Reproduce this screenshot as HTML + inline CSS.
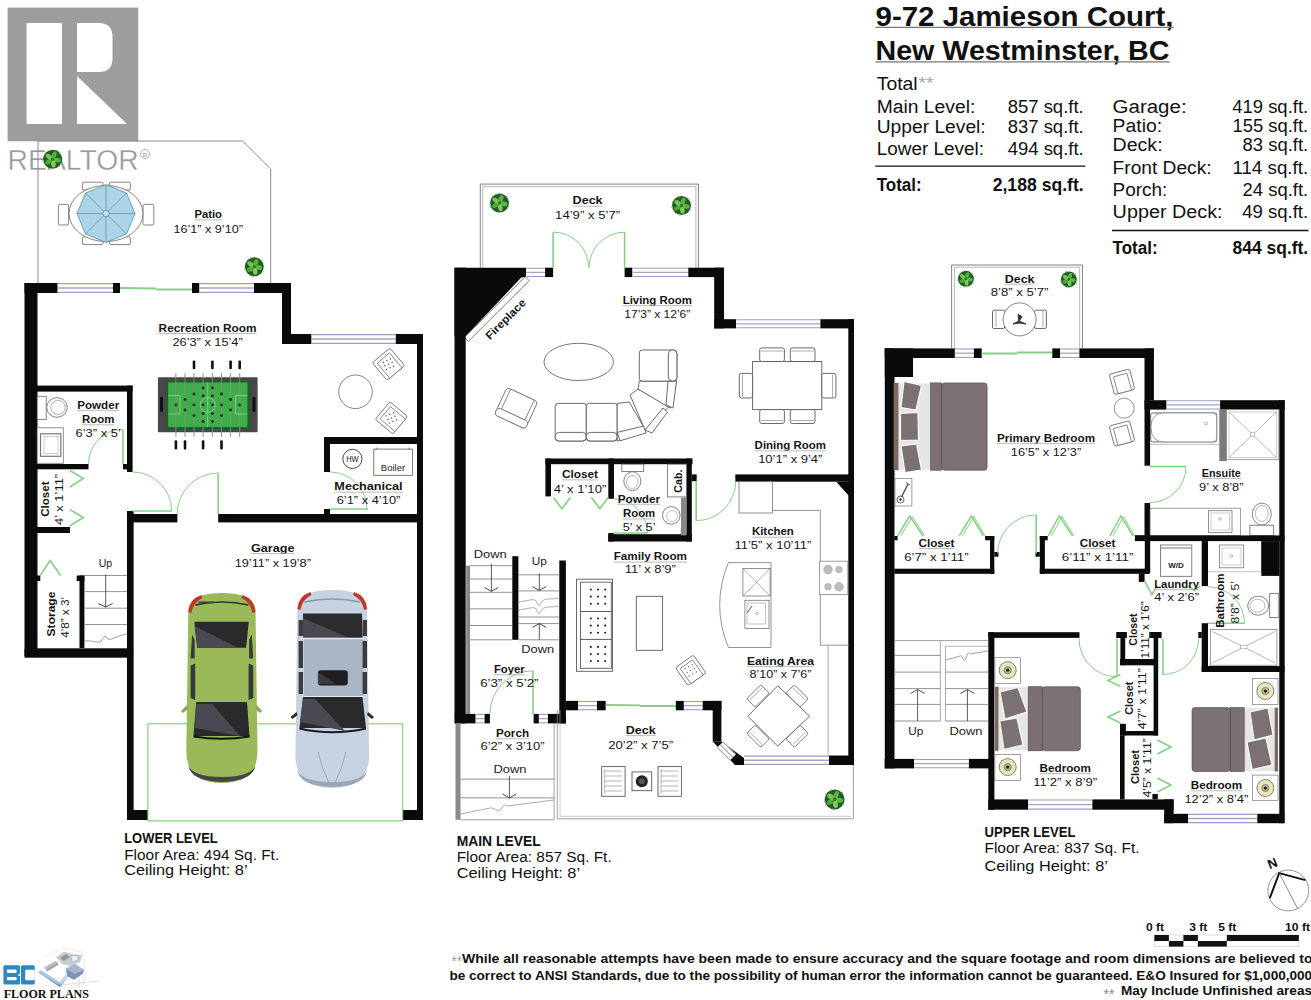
<!DOCTYPE html><html><head><meta charset="utf-8"><style>html,body{margin:0;padding:0;background:#fff;overflow:hidden}svg{display:block}</style></head><body><svg width="1311" height="1000" viewBox="0 0 1311 1000"><rect x="7.6" y="7.6" width="130.6" height="133.7" fill="#9d9d9d" />
<rect x="26.6" y="23" width="35.4" height="101" fill="#fff" />
<path d="M77,23 H99 Q112.5,23 112.5,37 V58 Q112.5,72 99,72 H77 Z" stroke="none" stroke-width="0" fill="#fff" />
<polygon points="77,76 127,124 77,124" fill="#fff" />
<text x="7.6" y="170" font-family="Liberation Sans" font-size="29.5" font-weight="normal" text-anchor="start" fill="#9a9a9a" textLength="131" lengthAdjust="spacingAndGlyphs" stroke="#fff" stroke-width="0.35">REALTOR</text>
<circle cx="145" cy="154" r="4.5" stroke="#a8a8a8" stroke-width="0.9" fill="none" />
<text x="145" y="157" font-family="Liberation Sans" font-size="6" font-weight="bold" text-anchor="middle" fill="#a8a8a8" >R</text>
<text x="875.5" y="25.8" font-family="Liberation Sans" font-size="28" font-weight="bold" text-anchor="start" fill="#111" textLength="298" lengthAdjust="spacingAndGlyphs" >9-72 Jamieson Court,</text>
<line x1="875.5" y1="27.3" x2="1173.7" y2="27.3" stroke="#777" stroke-width="1.2" />
<text x="875.5" y="60.2" font-family="Liberation Sans" font-size="28" font-weight="bold" text-anchor="start" fill="#111" textLength="294" lengthAdjust="spacingAndGlyphs" >New Westminster, BC</text>
<line x1="875.5" y1="61.8" x2="1169.6" y2="61.8" stroke="#777" stroke-width="1.2" />
<text x="876.7" y="89.6" font-family="Liberation Sans" font-size="18" font-weight="normal" text-anchor="start" fill="#111" textLength="41" lengthAdjust="spacingAndGlyphs" >Total</text>
<text x="918.3" y="88.5" font-family="Liberation Sans" font-size="17" font-weight="normal" text-anchor="start" fill="#aaa" textLength="15.5" lengthAdjust="spacingAndGlyphs" >**</text>
<text x="876.7" y="112.6" font-family="Liberation Sans" font-size="18" font-weight="normal" text-anchor="start" fill="#111" textLength="98.6" lengthAdjust="spacingAndGlyphs" >Main Level:</text>
<text x="1083.7" y="112.6" font-family="Liberation Sans" font-size="18" font-weight="normal" text-anchor="end" fill="#111" textLength="76" lengthAdjust="spacingAndGlyphs" >857 sq.ft.</text>
<text x="876.7" y="133.2" font-family="Liberation Sans" font-size="18" font-weight="normal" text-anchor="start" fill="#111" textLength="109" lengthAdjust="spacingAndGlyphs" >Upper Level:</text>
<text x="1083.7" y="133.2" font-family="Liberation Sans" font-size="18" font-weight="normal" text-anchor="end" fill="#111" textLength="76" lengthAdjust="spacingAndGlyphs" >837 sq.ft.</text>
<text x="876.7" y="155.1" font-family="Liberation Sans" font-size="18" font-weight="normal" text-anchor="start" fill="#111" textLength="107.4" lengthAdjust="spacingAndGlyphs" >Lower Level:</text>
<text x="1083.7" y="155.1" font-family="Liberation Sans" font-size="18" font-weight="normal" text-anchor="end" fill="#111" textLength="76" lengthAdjust="spacingAndGlyphs" >494 sq.ft.</text>
<line x1="875.3" y1="166.1" x2="1085.4" y2="166.1" stroke="#111" stroke-width="1.3" />
<text x="876.7" y="191.4" font-family="Liberation Sans" font-size="18" font-weight="bold" text-anchor="start" fill="#111" textLength="45" lengthAdjust="spacingAndGlyphs" >Total:</text>
<text x="1083.7" y="191.4" font-family="Liberation Sans" font-size="18" font-weight="bold" text-anchor="end" fill="#111" textLength="91" lengthAdjust="spacingAndGlyphs" >2,188 sq.ft.</text>
<text x="1112.6" y="112.7" font-family="Liberation Sans" font-size="18" font-weight="normal" text-anchor="start" fill="#111" textLength="74" lengthAdjust="spacingAndGlyphs" >Garage:</text>
<text x="1308.2" y="112.7" font-family="Liberation Sans" font-size="18" font-weight="normal" text-anchor="end" fill="#111" textLength="76" lengthAdjust="spacingAndGlyphs" >419 sq.ft.</text>
<text x="1112.6" y="132" font-family="Liberation Sans" font-size="18" font-weight="normal" text-anchor="start" fill="#111" textLength="49.5" lengthAdjust="spacingAndGlyphs" >Patio:</text>
<text x="1308.2" y="132" font-family="Liberation Sans" font-size="18" font-weight="normal" text-anchor="end" fill="#111" textLength="75.8" lengthAdjust="spacingAndGlyphs" >155 sq.ft.</text>
<text x="1112.6" y="151.2" font-family="Liberation Sans" font-size="18" font-weight="normal" text-anchor="start" fill="#111" textLength="50" lengthAdjust="spacingAndGlyphs" >Deck:</text>
<text x="1308.2" y="151.2" font-family="Liberation Sans" font-size="18" font-weight="normal" text-anchor="end" fill="#111" textLength="65.6" lengthAdjust="spacingAndGlyphs" >83 sq.ft.</text>
<text x="1112.6" y="173.6" font-family="Liberation Sans" font-size="18" font-weight="normal" text-anchor="start" fill="#111" textLength="99" lengthAdjust="spacingAndGlyphs" >Front Deck:</text>
<text x="1308.2" y="173.6" font-family="Liberation Sans" font-size="18" font-weight="normal" text-anchor="end" fill="#111" textLength="75.8" lengthAdjust="spacingAndGlyphs" >114 sq.ft.</text>
<text x="1112.6" y="195.8" font-family="Liberation Sans" font-size="18" font-weight="normal" text-anchor="start" fill="#111" textLength="54.8" lengthAdjust="spacingAndGlyphs" >Porch:</text>
<text x="1308.2" y="195.8" font-family="Liberation Sans" font-size="18" font-weight="normal" text-anchor="end" fill="#111" textLength="65.6" lengthAdjust="spacingAndGlyphs" >24 sq.ft.</text>
<text x="1112.6" y="218.1" font-family="Liberation Sans" font-size="18" font-weight="normal" text-anchor="start" fill="#111" textLength="110" lengthAdjust="spacingAndGlyphs" >Upper Deck:</text>
<text x="1308.2" y="218.1" font-family="Liberation Sans" font-size="18" font-weight="normal" text-anchor="end" fill="#111" textLength="66" lengthAdjust="spacingAndGlyphs" >49 sq.ft.</text>
<line x1="1112" y1="230.5" x2="1308.5" y2="230.5" stroke="#111" stroke-width="1.3" />
<text x="1112.6" y="254.4" font-family="Liberation Sans" font-size="18" font-weight="bold" text-anchor="start" fill="#111" textLength="45" lengthAdjust="spacingAndGlyphs" >Total:</text>
<text x="1308.2" y="254.4" font-family="Liberation Sans" font-size="18" font-weight="bold" text-anchor="end" fill="#111" textLength="75.6" lengthAdjust="spacingAndGlyphs" >844 sq.ft.</text>
<path d="M38,283 V141 H242.6 L270.7,169 V283" stroke="#8a8a8a" stroke-width="1" fill="none" />
<rect x="24.5" y="283" width="33.2" height="10" fill="#0a0a0a" />
<rect x="57.7" y="283" width="55.3" height="10" fill="#fff" />
<line x1="57.7" y1="283.6" x2="113" y2="283.6" stroke="#9a9cc8" stroke-width="1.1" />
<line x1="57.7" y1="292.4" x2="113" y2="292.4" stroke="#9a9cc8" stroke-width="1.1" />
<line x1="57.7" y1="288" x2="113" y2="288" stroke="#a6a6b4" stroke-width="1.3" />
<rect x="113" y="283" width="7" height="10" fill="#0a0a0a" />
<line x1="120" y1="288" x2="156" y2="288.5" stroke="#86d086" stroke-width="1.8" />
<line x1="156" y1="289.5" x2="192" y2="289.5" stroke="#86d086" stroke-width="1.8" />
<rect x="192" y="283" width="7.5" height="10" fill="#0a0a0a" />
<rect x="199.5" y="283" width="54.5" height="10" fill="#fff" />
<line x1="199.5" y1="283.6" x2="254" y2="283.6" stroke="#9a9cc8" stroke-width="1.1" />
<line x1="199.5" y1="292.4" x2="254" y2="292.4" stroke="#9a9cc8" stroke-width="1.1" />
<line x1="199.5" y1="288" x2="254" y2="288" stroke="#a6a6b4" stroke-width="1.3" />
<rect x="254" y="283" width="37" height="10" fill="#0a0a0a" />
<rect x="24.5" y="283" width="13" height="373" fill="#0a0a0a" />
<rect x="282" y="283" width="9" height="61" fill="#0a0a0a" />
<rect x="282" y="334" width="29.6" height="10" fill="#0a0a0a" />
<rect x="311.6" y="334" width="84.2" height="10" fill="#fff" />
<line x1="311.6" y1="334.6" x2="395.8" y2="334.6" stroke="#9a9cc8" stroke-width="1.1" />
<line x1="311.6" y1="343.4" x2="395.8" y2="343.4" stroke="#9a9cc8" stroke-width="1.1" />
<line x1="311.6" y1="339" x2="395.8" y2="339" stroke="#a6a6b4" stroke-width="1.3" />
<rect x="395.8" y="334" width="27.2" height="10" fill="#0a0a0a" />
<rect x="417" y="334" width="6" height="486" fill="#0a0a0a" />
<rect x="324" y="437" width="99" height="7" fill="#0a0a0a" />
<rect x="324" y="437" width="6" height="35" fill="#0a0a0a" />
<rect x="324" y="509" width="6" height="13" fill="#0a0a0a" />
<rect x="37" y="385.6" width="95.6" height="6" fill="#0a0a0a" />
<rect x="127" y="385.6" width="5.6" height="86.4" fill="#0a0a0a" />
<rect x="123" y="464" width="4" height="5.4" fill="#0a0a0a" />
<rect x="37" y="464" width="51.5" height="5.3" fill="#0a0a0a" />
<rect x="37" y="527" width="33" height="6" fill="#0a0a0a" />
<rect x="36.5" y="575.5" width="3.8" height="5.5" fill="#0a0a0a" />
<rect x="76.7" y="575.5" width="7.7" height="5.5" fill="#0a0a0a" />
<rect x="79.5" y="575.5" width="4.9" height="72.5" fill="#0a0a0a" />
<rect x="24.5" y="648.3" width="108.7" height="9.4" fill="#0a0a0a" />
<rect x="127" y="511" width="6.6" height="309" fill="#0a0a0a" />
<rect x="127" y="514" width="50.4" height="8.4" fill="#0a0a0a" />
<rect x="218.2" y="514" width="204.8" height="8.4" fill="#0a0a0a" />
<rect x="127" y="810" width="21" height="10" fill="#0a0a0a" />
<rect x="402.7" y="810" width="20.3" height="10" fill="#0a0a0a" />
<rect x="147.9" y="723.8" width="254.8" height="97.1" fill="none" stroke="#7ccf7c" stroke-width="1.1"/>
<rect x="82.4" y="182.2" width="20.6" height="7.8" fill="#fff" stroke="#666" stroke-width="0.8" rx="1.5"/>
<rect x="82.4" y="236.8" width="20.6" height="7.8" fill="#fff" stroke="#666" stroke-width="0.8" rx="1.5"/>
<rect x="109.4" y="182.2" width="21" height="7.8" fill="#fff" stroke="#666" stroke-width="0.8" rx="1.5"/>
<rect x="109.4" y="236.8" width="21" height="7.8" fill="#fff" stroke="#666" stroke-width="0.8" rx="1.5"/>
<rect x="58.4" y="204.4" width="10.2" height="20.6" fill="#fff" stroke="#666" stroke-width="0.8" rx="1.5"/>
<rect x="143" y="204.4" width="10.8" height="20.6" fill="#fff" stroke="#666" stroke-width="0.8" rx="1.5"/>
<ellipse cx="106" cy="213.5" rx="37" ry="28" stroke="#666" stroke-width="0.8" fill="#fff" />
<polygon points="106,184.5 126.51,192.99 135,213.5 126.51,234.01 106,242.5 85.49,234.01 77,213.5 85.49,192.99" fill="#a9d5e6" stroke="#4f7f94" stroke-width="0.7"/>
<line x1="106" y1="213.5" x2="106" y2="184.5" stroke="#4f7f94" stroke-width="0.6" />
<line x1="106" y1="213.5" x2="126.51" y2="192.99" stroke="#4f7f94" stroke-width="0.6" />
<line x1="106" y1="213.5" x2="135" y2="213.5" stroke="#4f7f94" stroke-width="0.6" />
<line x1="106" y1="213.5" x2="126.51" y2="234.01" stroke="#4f7f94" stroke-width="0.6" />
<line x1="106" y1="213.5" x2="106" y2="242.5" stroke="#4f7f94" stroke-width="0.6" />
<line x1="106" y1="213.5" x2="85.49" y2="234.01" stroke="#4f7f94" stroke-width="0.6" />
<line x1="106" y1="213.5" x2="77" y2="213.5" stroke="#4f7f94" stroke-width="0.6" />
<line x1="106" y1="213.5" x2="85.49" y2="192.99" stroke="#4f7f94" stroke-width="0.6" />
<circle cx="106" cy="213.5" r="3.2" stroke="#4f7f94" stroke-width="0.7" fill="#bfe3f0" />
<circle cx="254.3" cy="266.8" r="9.5" stroke="none" stroke-width="0" fill="#1f5f22" />
<ellipse cx="258.51" cy="267.54" rx="3.99" ry="2.28" fill="#5fb446" transform="rotate(10 258.51 267.54)"/>
<ellipse cx="255.04" cy="271.01" rx="3.99" ry="2.28" fill="#86c95a" transform="rotate(80 255.04 271.01)"/>
<ellipse cx="250.6" cy="268.94" rx="3.99" ry="2.28" fill="#4fa83c" transform="rotate(150 250.6 268.94)"/>
<ellipse cx="250.8" cy="264.35" rx="3.99" ry="2.28" fill="#7cc255" transform="rotate(215 250.8 264.35)"/>
<ellipse cx="255.76" cy="262.78" rx="3.99" ry="2.28" fill="#5cb043" transform="rotate(290 255.76 262.78)"/>
<circle cx="254.3" cy="266.8" r="1.71" stroke="none" stroke-width="0" fill="#2d7a2d" />
<circle cx="262.69" cy="271.64" r="0.9" stroke="none" stroke-width="0" fill="#9ec89a" />
<circle cx="252.62" cy="276.34" r="0.9" stroke="none" stroke-width="0" fill="#9ec89a" />
<circle cx="244.76" cy="268.48" r="0.9" stroke="none" stroke-width="0" fill="#9ec89a" />
<circle cx="250.99" cy="257.69" r="0.9" stroke="none" stroke-width="0" fill="#9ec89a" />
<circle cx="261.72" cy="260.57" r="0.9" stroke="none" stroke-width="0" fill="#9ec89a" />
<circle cx="52.6" cy="159.3" r="9.5" stroke="none" stroke-width="0" fill="#1f5f22" />
<ellipse cx="56.81" cy="160.04" rx="3.99" ry="2.28" fill="#5fb446" transform="rotate(10 56.81 160.04)"/>
<ellipse cx="53.34" cy="163.51" rx="3.99" ry="2.28" fill="#86c95a" transform="rotate(80 53.34 163.51)"/>
<ellipse cx="48.9" cy="161.44" rx="3.99" ry="2.28" fill="#4fa83c" transform="rotate(150 48.9 161.44)"/>
<ellipse cx="49.1" cy="156.85" rx="3.99" ry="2.28" fill="#7cc255" transform="rotate(215 49.1 156.85)"/>
<ellipse cx="54.06" cy="155.28" rx="3.99" ry="2.28" fill="#5cb043" transform="rotate(290 54.06 155.28)"/>
<circle cx="52.6" cy="159.3" r="1.71" stroke="none" stroke-width="0" fill="#2d7a2d" />
<circle cx="60.99" cy="164.15" r="0.9" stroke="none" stroke-width="0" fill="#9ec89a" />
<circle cx="50.92" cy="168.84" r="0.9" stroke="none" stroke-width="0" fill="#9ec89a" />
<circle cx="43.06" cy="160.98" r="0.9" stroke="none" stroke-width="0" fill="#9ec89a" />
<circle cx="49.29" cy="150.19" r="0.9" stroke="none" stroke-width="0" fill="#9ec89a" />
<circle cx="60.02" cy="153.07" r="0.9" stroke="none" stroke-width="0" fill="#9ec89a" />
<rect x="157.9" y="377.3" width="99.7" height="55" fill="#4b4649" rx="1"/>
<rect x="165.4" y="379.7" width="84.7" height="49.7" fill="#245f2a" />
<rect x="168.2" y="382.5" width="79.2" height="44.5" fill="#3fae4a" />
<line x1="175.9" y1="373" x2="175.9" y2="437" stroke="#8a8a8a" stroke-width="0.9" />
<line x1="185" y1="373" x2="185" y2="437" stroke="#8a8a8a" stroke-width="0.9" />
<line x1="194" y1="373" x2="194" y2="437" stroke="#8a8a8a" stroke-width="0.9" />
<line x1="203.1" y1="373" x2="203.1" y2="437" stroke="#8a8a8a" stroke-width="0.9" />
<line x1="212.4" y1="373" x2="212.4" y2="437" stroke="#8a8a8a" stroke-width="0.9" />
<line x1="221.5" y1="373" x2="221.5" y2="437" stroke="#8a8a8a" stroke-width="0.9" />
<line x1="230.6" y1="373" x2="230.6" y2="437" stroke="#8a8a8a" stroke-width="0.9" />
<line x1="239.7" y1="373" x2="239.7" y2="437" stroke="#8a8a8a" stroke-width="0.9" />
<rect x="192.7" y="360.5" width="2.6" height="8.8" fill="#111" rx="1"/>
<rect x="211.1" y="360.5" width="2.6" height="8.8" fill="#111" rx="1"/>
<rect x="229.3" y="360.5" width="2.6" height="8.8" fill="#111" rx="1"/>
<rect x="238.4" y="360.5" width="2.6" height="8.8" fill="#111" rx="1"/>
<rect x="174.6" y="440.2" width="2.6" height="9.4" fill="#111" rx="1"/>
<rect x="183.7" y="440.2" width="2.6" height="9.4" fill="#111" rx="1"/>
<rect x="201.8" y="440.2" width="2.6" height="9.4" fill="#111" rx="1"/>
<rect x="220.2" y="440.2" width="2.6" height="9.4" fill="#111" rx="1"/>
<line x1="207.7" y1="382.5" x2="207.7" y2="427" stroke="#8fe08f" stroke-width="0.7" />
<circle cx="207.7" cy="404.8" r="7.5" stroke="#8fe08f" stroke-width="0.7" fill="none" />
<path d="M168.2,395.5 H180 V414 H168.2" stroke="#8fe08f" stroke-width="0.7" fill="none" />
<path d="M247.4,395.5 H235.5 V414 H247.4" stroke="#8fe08f" stroke-width="0.7" fill="none" />
<circle cx="175.9" cy="404.8" r="1.4" stroke="none" stroke-width="0" fill="#0e2e10" />
<circle cx="185" cy="399.5" r="1.4" stroke="none" stroke-width="0" fill="#0e2e10" />
<circle cx="185" cy="410" r="1.4" stroke="none" stroke-width="0" fill="#0e2e10" />
<circle cx="194" cy="394" r="1.4" stroke="none" stroke-width="0" fill="#0e2e10" />
<circle cx="194" cy="404.8" r="1.4" stroke="none" stroke-width="0" fill="#0e2e10" />
<circle cx="194" cy="415.6" r="1.4" stroke="none" stroke-width="0" fill="#0e2e10" />
<circle cx="203.1" cy="388" r="1.4" stroke="none" stroke-width="0" fill="#0e2e10" />
<circle cx="203.1" cy="396" r="1.4" stroke="none" stroke-width="0" fill="#0e2e10" />
<circle cx="203.1" cy="404.8" r="1.4" stroke="none" stroke-width="0" fill="#0e2e10" />
<circle cx="203.1" cy="413.5" r="1.4" stroke="none" stroke-width="0" fill="#0e2e10" />
<circle cx="203.1" cy="421.5" r="1.4" stroke="none" stroke-width="0" fill="#0e2e10" />
<circle cx="212.4" cy="388" r="1.4" stroke="none" stroke-width="0" fill="#0e2e10" />
<circle cx="212.4" cy="396" r="1.4" stroke="none" stroke-width="0" fill="#0e2e10" />
<circle cx="212.4" cy="404.8" r="1.4" stroke="none" stroke-width="0" fill="#0e2e10" />
<circle cx="212.4" cy="413.5" r="1.4" stroke="none" stroke-width="0" fill="#0e2e10" />
<circle cx="212.4" cy="421.5" r="1.4" stroke="none" stroke-width="0" fill="#0e2e10" />
<circle cx="221.5" cy="394" r="1.4" stroke="none" stroke-width="0" fill="#0e2e10" />
<circle cx="221.5" cy="404.8" r="1.4" stroke="none" stroke-width="0" fill="#0e2e10" />
<circle cx="221.5" cy="415.6" r="1.4" stroke="none" stroke-width="0" fill="#0e2e10" />
<circle cx="230.6" cy="399.5" r="1.4" stroke="none" stroke-width="0" fill="#0e2e10" />
<circle cx="230.6" cy="410" r="1.4" stroke="none" stroke-width="0" fill="#0e2e10" />
<circle cx="239.7" cy="404.8" r="1.4" stroke="none" stroke-width="0" fill="#0e2e10" />
<rect x="160" y="397" width="3" height="15" fill="#111" rx="1"/>
<rect x="252.5" y="397" width="3" height="15" fill="#111" rx="1"/>
<circle cx="355.5" cy="391.8" r="16.8" stroke="#666" stroke-width="0.8" fill="#fff" />
<g transform="translate(388.5 364.2) rotate(-40)"><rect x="-11.5" y="-11.5" width="23" height="23" rx="2" fill="#fff" stroke="#666" stroke-width="0.8"/><rect x="-8.0" y="-8.0" width="16" height="19.5" fill="#fff" stroke="#666" stroke-width="0.7"/></g>
<g transform="translate(391.4 417.9) rotate(-50)"><rect x="-11.5" y="-11.5" width="23" height="23" rx="2" fill="#fff" stroke="#666" stroke-width="0.8"/><rect x="-8.0" y="-8.0" width="16" height="19.5" fill="#fff" stroke="#666" stroke-width="0.7"/></g>
<circle cx="383.3" cy="362.2" r="0.7" stroke="none" stroke-width="0" fill="#444" />
<circle cx="384.9" cy="365.8" r="0.7" stroke="none" stroke-width="0" fill="#444" />
<circle cx="386.5" cy="369.4" r="0.7" stroke="none" stroke-width="0" fill="#444" />
<circle cx="386.9" cy="360.6" r="0.7" stroke="none" stroke-width="0" fill="#444" />
<circle cx="388.5" cy="364.2" r="0.7" stroke="none" stroke-width="0" fill="#444" />
<circle cx="390.1" cy="367.8" r="0.7" stroke="none" stroke-width="0" fill="#444" />
<circle cx="390.5" cy="359" r="0.7" stroke="none" stroke-width="0" fill="#444" />
<circle cx="392.1" cy="362.6" r="0.7" stroke="none" stroke-width="0" fill="#444" />
<circle cx="393.7" cy="366.2" r="0.7" stroke="none" stroke-width="0" fill="#444" />
<circle cx="386.2" cy="415.9" r="0.7" stroke="none" stroke-width="0" fill="#444" />
<circle cx="387.8" cy="419.5" r="0.7" stroke="none" stroke-width="0" fill="#444" />
<circle cx="389.4" cy="423.1" r="0.7" stroke="none" stroke-width="0" fill="#444" />
<circle cx="389.8" cy="414.3" r="0.7" stroke="none" stroke-width="0" fill="#444" />
<circle cx="391.4" cy="417.9" r="0.7" stroke="none" stroke-width="0" fill="#444" />
<circle cx="393" cy="421.5" r="0.7" stroke="none" stroke-width="0" fill="#444" />
<circle cx="393.4" cy="412.7" r="0.7" stroke="none" stroke-width="0" fill="#444" />
<circle cx="395" cy="416.3" r="0.7" stroke="none" stroke-width="0" fill="#444" />
<circle cx="396.6" cy="419.9" r="0.7" stroke="none" stroke-width="0" fill="#444" />
<circle cx="352.4" cy="458.9" r="9.6" stroke="#333" stroke-width="0.9" fill="none" />
<text x="352.4" y="462.3" font-family="Liberation Sans" font-size="9" font-weight="normal" text-anchor="middle" fill="#222" textLength="12.5" lengthAdjust="spacingAndGlyphs" >HW</text>
<rect x="373.8" y="449.1" width="38.6" height="26.2" fill="#fff" stroke="#555" stroke-width="0.8"/>
<text x="393" y="470.5" font-family="Liberation Sans" font-size="9.5" font-weight="normal" text-anchor="middle" fill="#222" >Boiler</text>
<line x1="377" y1="449.1" x2="377" y2="447.5" stroke="#555" stroke-width="0.8" />
<line x1="409" y1="449.1" x2="409" y2="447.5" stroke="#555" stroke-width="0.8" />
<rect x="37.2" y="396.3" width="9" height="23.2" fill="#fff" stroke="#666" stroke-width="0.8"/>
<ellipse cx="57" cy="407.5" rx="10.3" ry="9.8" stroke="#666" stroke-width="0.8" fill="#fff" />
<ellipse cx="58" cy="407.5" rx="7.3" ry="7" stroke="#777" stroke-width="0.6" fill="none" />
<rect x="37.2" y="427.8" width="26.1" height="35.5" fill="#fff" stroke="#777" stroke-width="0.8"/>
<rect x="40.5" y="433.8" width="20.3" height="22.5" fill="#fff" stroke="#777" stroke-width="1.2"/>
<rect x="44" y="436.5" width="14" height="17" fill="#fff" stroke="#999" stroke-width="0.5"/>
<line x1="123" y1="430" x2="123" y2="464" stroke="#86d086" stroke-width="1.6" />
<path d="M88.5,463.8 A34.5,34.5 0 0 1 123,429.3" stroke="#86d086" stroke-width="1" fill="none" />
<path d="M69.8,470.5 L83.3,478.5 L69.8,487.0" stroke="#86d086" stroke-width="1.6" fill="none" />
<path d="M69.8,509.5 L83.3,517.5 L69.8,526.0" stroke="#86d086" stroke-width="1.6" fill="none" />
<path d="M40.3,575.5 L50.1,560.5 L60.6,575.5" stroke="#86d086" stroke-width="1.6" fill="none" />
<line x1="132.6" y1="511" x2="171.5" y2="511" stroke="#86d086" stroke-width="1.6" />
<path d="M132.6,472 A39,39 0 0 1 171.6,511" stroke="#86d086" stroke-width="1" fill="none" />
<line x1="218.2" y1="473" x2="218.2" y2="514" stroke="#86d086" stroke-width="1.6" />
<path d="M177.2,514 A41,41 0 0 1 218.2,473" stroke="#86d086" stroke-width="1" fill="none" />
<line x1="330" y1="509" x2="368" y2="509" stroke="#86d086" stroke-width="1.6" />
<path d="M330,472 A37,37 0 0 1 367,509" stroke="#86d086" stroke-width="1" fill="none" />
<line x1="84.4" y1="575.5" x2="127" y2="575.5" stroke="#777" stroke-width="0.8" />
<line x1="84.4" y1="591.6" x2="127" y2="591.6" stroke="#777" stroke-width="0.8" />
<line x1="84.4" y1="608.2" x2="127" y2="608.2" stroke="#777" stroke-width="0.8" />
<line x1="84.4" y1="624.5" x2="127" y2="624.5" stroke="#777" stroke-width="0.8" />
<path d="M84.4,641 C93,640 98,644 101,641 S104,634 107,638 S115,636 127,634" stroke="#777" stroke-width="0.7" fill="none" />
<line x1="105.7" y1="574.5" x2="105.7" y2="607" stroke="#333" stroke-width="0.8" />
<path d="M98.4,603.5 L105.7,607 L112.7,603.5" stroke="#333" stroke-width="0.9" fill="none" />
<text x="105.4" y="567.1" font-family="Liberation Sans" font-size="11" font-weight="normal" text-anchor="middle" fill="#222" textLength="13.5" lengthAdjust="spacingAndGlyphs" >Up</text>
<text x="208.2" y="218.1" font-family="Liberation Sans" font-size="11" font-weight="bold" text-anchor="middle" fill="#151515" textLength="27.5" lengthAdjust="spacingAndGlyphs" >Patio</text>
<line x1="194.45" y1="219.9" x2="221.95" y2="219.9" stroke="#aaa" stroke-width="0.8" />
<text x="208.2" y="232.5" font-family="Liberation Sans" font-size="11" font-weight="normal" text-anchor="middle" fill="#151515" textLength="69.3" lengthAdjust="spacingAndGlyphs" >16’1” x 9’10”</text>
<text x="207.6" y="331.7" font-family="Liberation Sans" font-size="11" font-weight="bold" text-anchor="middle" fill="#151515" textLength="98" lengthAdjust="spacingAndGlyphs" >Recreation Room</text>
<line x1="158.6" y1="333.5" x2="256.6" y2="333.5" stroke="#aaa" stroke-width="0.8" />
<text x="207.6" y="345.9" font-family="Liberation Sans" font-size="11" font-weight="normal" text-anchor="middle" fill="#151515" textLength="70.3" lengthAdjust="spacingAndGlyphs" >26’3” x 15’4”</text>
<text x="98.2" y="408.6" font-family="Liberation Sans" font-size="11" font-weight="bold" text-anchor="middle" fill="#151515" textLength="42" lengthAdjust="spacingAndGlyphs" >Powder</text>
<line x1="77.2" y1="410.4" x2="119.2" y2="410.4" stroke="#aaa" stroke-width="0.8" />
<text x="98.2" y="423" font-family="Liberation Sans" font-size="11" font-weight="bold" text-anchor="middle" fill="#151515" textLength="32.4" lengthAdjust="spacingAndGlyphs" >Room</text>
<line x1="82" y1="424.8" x2="114.4" y2="424.8" stroke="#aaa" stroke-width="0.8" />
<text x="98.2" y="437" font-family="Liberation Sans" font-size="11" font-weight="normal" text-anchor="middle" fill="#151515" textLength="45.4" lengthAdjust="spacingAndGlyphs" >6’3” x 5’</text>
<text x="368.5" y="490.4" font-family="Liberation Sans" font-size="11" font-weight="bold" text-anchor="middle" fill="#151515" textLength="68.3" lengthAdjust="spacingAndGlyphs" >Mechanical</text>
<line x1="334.35" y1="492.2" x2="402.65" y2="492.2" stroke="#aaa" stroke-width="0.8" />
<text x="368.5" y="504" font-family="Liberation Sans" font-size="11" font-weight="normal" text-anchor="middle" fill="#151515" textLength="63.7" lengthAdjust="spacingAndGlyphs" >6’1” x 4’10”</text>
<text x="49.3" y="499.1" font-family="Liberation Sans" font-size="11" font-weight="bold" text-anchor="middle" fill="#151515" textLength="35.3" lengthAdjust="spacingAndGlyphs" transform="rotate(-90 49.3 499.1)" >Closet</text>
<text x="63" y="499.4" font-family="Liberation Sans" font-size="11" font-weight="normal" text-anchor="middle" fill="#151515" textLength="51.2" lengthAdjust="spacingAndGlyphs" transform="rotate(-90 63 499.4)" >4’ x 1’11”</text>
<text x="54.7" y="614" font-family="Liberation Sans" font-size="11" font-weight="bold" text-anchor="middle" fill="#151515" textLength="44.8" lengthAdjust="spacingAndGlyphs" transform="rotate(-90 54.7 614)" >Storage</text>
<text x="69" y="617.4" font-family="Liberation Sans" font-size="11" font-weight="normal" text-anchor="middle" fill="#151515" textLength="40.8" lengthAdjust="spacingAndGlyphs" transform="rotate(-90 69 617.4)" >4’8” x 3’</text>
<text x="272.8" y="551.8" font-family="Liberation Sans" font-size="11" font-weight="bold" text-anchor="middle" fill="#151515" textLength="43.7" lengthAdjust="spacingAndGlyphs" >Garage</text>
<line x1="250.95" y1="553.6" x2="294.65" y2="553.6" stroke="#aaa" stroke-width="0.8" />
<text x="272.8" y="566.7" font-family="Liberation Sans" font-size="11" font-weight="normal" text-anchor="middle" fill="#151515" textLength="76.3" lengthAdjust="spacingAndGlyphs" >19’11” x 19’8”</text>
<text x="124.2" y="843.2" font-family="Liberation Sans" font-size="14" font-weight="bold" text-anchor="start" fill="#111" textLength="93.5" lengthAdjust="spacingAndGlyphs" >LOWER LEVEL</text>
<text x="124.2" y="860" font-family="Liberation Sans" font-size="14" font-weight="normal" text-anchor="start" fill="#111" textLength="155" lengthAdjust="spacingAndGlyphs" >Floor Area: 494 Sq. Ft.</text>
<text x="124.2" y="875.4" font-family="Liberation Sans" font-size="14" font-weight="normal" text-anchor="start" fill="#111" textLength="123.4" lengthAdjust="spacingAndGlyphs" >Ceiling Height: 8’</text>
<path d="M188.3,611 Q188.3,593 221.9,593 Q255.5,593 255.5,611 L257.5,751 Q257.5,783 221.9,783 Q186.3,783 186.3,751 Z" stroke="none" stroke-width="0" fill="#9aba5a" />
<path d="M188.3,765 Q190.3,781 221.9,782 Q253.5,781 255.5,765 Q251.5,777 221.9,777 Q192.3,777 188.3,765 Z" stroke="none" stroke-width="0" fill="#444" />
<path d="M188.3,612 Q189.3,599 201.3,595 L202.3,598 Q193.3,602 191.3,613 Z" stroke="none" stroke-width="0" fill="#c2352a" />
<path d="M255.5,612 Q254.5,599 242.5,595 L241.5,598 Q250.5,602 252.5,613 Z" stroke="none" stroke-width="0" fill="#c2352a" />
<path d="M195.3,605 Q221.9,599 248.5,605" stroke="#333" stroke-width="1.3" fill="none" />
<rect x="198.5" y="601.5" width="15.5" height="1.7" fill="#3a4a2a" />
<polygon points="194.4,621.8 248.8,621.8 246.1,647.7 197.3,647.7" fill="#2a2a2c" />
<polygon points="194.4,626 197.3,647.7 238,647.7" fill="#4a4852" />
<polygon points="192.1,634.5 194.7,640 194.7,658.6 190.6,658.6" fill="#36383a" />
<polygon points="190.6,665.5 195.2,663.5 195.2,700 190.6,698" fill="#36383a" />
<polygon points="251.7,634.5 249.1,640 249.1,658.6 253.2,658.6" fill="#36383a" />
<polygon points="253.2,665.5 248.6,663.5 248.6,700 253.2,698" fill="#36383a" />
<polygon points="196.2,702 247,702 249.5,736 193.5,736" fill="#2a2a2c" />
<polygon points="196.2,704 194.5,728 240,736 212,704" fill="#4a4852" />
<path d="M193.5,736.5 Q221.5,741 249.5,736.5" stroke="#111" stroke-width="2" fill="none" />
<path d="M187,705 L181,711 L183,713 L188,709 Z" stroke="none" stroke-width="0" fill="#8aa84d" />
<path d="M256.5,705 L262,711 L260,713 L255.5,709 Z" stroke="none" stroke-width="0" fill="#8aa84d" />
<path d="M297.4,608 Q297.4,590 332.25,590 Q367.1,590 367.1,608 L369.1,756 Q369.1,788 332.25,788 Q295.4,788 295.4,756 Z" stroke="none" stroke-width="0" fill="#c6d2e2" />
<path d="M297.4,770 Q299.4,786 332.25,787 Q365.1,786 367.1,770 Q363.1,782 332.25,782 Q301.4,782 297.4,770 Z" stroke="none" stroke-width="0" fill="#9aa5b5" />
<path d="M297.4,609 Q298.4,596 310.4,592 L311.4,595 Q302.4,599 300.4,610 Z" stroke="none" stroke-width="0" fill="#c2352a" />
<path d="M367.1,609 Q366.1,596 354.1,592 L353.1,595 Q362.1,599 364.1,610 Z" stroke="none" stroke-width="0" fill="#c2352a" />
<path d="M304.4,602 Q332.25,596 360.1,602" stroke="#8a96a6" stroke-width="1.3" fill="none" />
<rect x="304" y="638.3" width="59.6" height="58.3" fill="#aab5c6" rx="2"/>
<polygon points="303,613.5 362,613.5 362.5,638.3 303,638.3" fill="#2c2c2e" />
<polygon points="303,618 303,638.3 350,638.3" fill="#4a4852" />
<line x1="301" y1="638.5" x2="364.5" y2="638.5" stroke="#e8edf4" stroke-width="1.4" />
<line x1="301" y1="696.8" x2="364.5" y2="696.8" stroke="#e8edf4" stroke-width="1.4" />
<rect x="317.9" y="670.2" width="29.9" height="15.4" fill="#1f1f21" rx="3"/>
<polygon points="318,684 318,672 336,684" fill="#3c3a42" />
<rect x="298.6" y="620" width="4.4" height="16" fill="#3a3c40" />
<rect x="298.6" y="641" width="4.4" height="27" fill="#3a3c40" />
<rect x="298.6" y="672" width="4.4" height="22" fill="#3a3c40" />
<rect x="362.6" y="620" width="4.4" height="16" fill="#3a3c40" />
<rect x="362.6" y="641" width="4.4" height="27" fill="#3a3c40" />
<rect x="362.6" y="672" width="4.4" height="22" fill="#3a3c40" />
<polygon points="303,697 362.5,697 366,728 299.5,728" fill="#2a2a2c" />
<polygon points="303,699 300,722 345,731 315,699" fill="#4a4852" />
<path d="M299.5,728.5 Q332,736 366,728.5" stroke="#1a1a1a" stroke-width="2" fill="none" />
<path d="M296.5,712 L290.5,717 L292.5,719 L297.5,715 Z" stroke="none" stroke-width="0" fill="#2a2a2a" />
<path d="M368,712 L374,717 L372,719 L367,715 Z" stroke="none" stroke-width="0" fill="#2a2a2a" />
<path d="M318,752 Q322,770 330,785 M346,752 Q342,770 334,785" stroke="#8b96a6" stroke-width="0.7" fill="none" />
<path d="M480.3,267.7 V184.1 H698.4 V267.7" stroke="#777" stroke-width="0.9" fill="none" />
<path d="M482.8,267.7 V186.6 H695.9 V267.7" stroke="#999" stroke-width="0.7" fill="none" />
<circle cx="499.5" cy="203" r="9.5" stroke="none" stroke-width="0" fill="#1f5f22" />
<ellipse cx="503.71" cy="203.74" rx="3.99" ry="2.28" fill="#5fb446" transform="rotate(10 503.71 203.74)"/>
<ellipse cx="500.24" cy="207.21" rx="3.99" ry="2.28" fill="#86c95a" transform="rotate(80 500.24 207.21)"/>
<ellipse cx="495.8" cy="205.14" rx="3.99" ry="2.28" fill="#4fa83c" transform="rotate(150 495.8 205.14)"/>
<ellipse cx="496" cy="200.55" rx="3.99" ry="2.28" fill="#7cc255" transform="rotate(215 496 200.55)"/>
<ellipse cx="500.96" cy="198.98" rx="3.99" ry="2.28" fill="#5cb043" transform="rotate(290 500.96 198.98)"/>
<circle cx="499.5" cy="203" r="1.71" stroke="none" stroke-width="0" fill="#2d7a2d" />
<circle cx="507.89" cy="207.84" r="0.9" stroke="none" stroke-width="0" fill="#9ec89a" />
<circle cx="497.82" cy="212.54" r="0.9" stroke="none" stroke-width="0" fill="#9ec89a" />
<circle cx="489.96" cy="204.68" r="0.9" stroke="none" stroke-width="0" fill="#9ec89a" />
<circle cx="496.19" cy="193.89" r="0.9" stroke="none" stroke-width="0" fill="#9ec89a" />
<circle cx="506.92" cy="196.77" r="0.9" stroke="none" stroke-width="0" fill="#9ec89a" />
<circle cx="681.5" cy="205.5" r="9.5" stroke="none" stroke-width="0" fill="#1f5f22" />
<ellipse cx="685.71" cy="206.24" rx="3.99" ry="2.28" fill="#5fb446" transform="rotate(10 685.71 206.24)"/>
<ellipse cx="682.24" cy="209.71" rx="3.99" ry="2.28" fill="#86c95a" transform="rotate(80 682.24 209.71)"/>
<ellipse cx="677.8" cy="207.64" rx="3.99" ry="2.28" fill="#4fa83c" transform="rotate(150 677.8 207.64)"/>
<ellipse cx="678" cy="203.05" rx="3.99" ry="2.28" fill="#7cc255" transform="rotate(215 678 203.05)"/>
<ellipse cx="682.96" cy="201.48" rx="3.99" ry="2.28" fill="#5cb043" transform="rotate(290 682.96 201.48)"/>
<circle cx="681.5" cy="205.5" r="1.71" stroke="none" stroke-width="0" fill="#2d7a2d" />
<circle cx="689.89" cy="210.34" r="0.9" stroke="none" stroke-width="0" fill="#9ec89a" />
<circle cx="679.82" cy="215.04" r="0.9" stroke="none" stroke-width="0" fill="#9ec89a" />
<circle cx="671.96" cy="207.18" r="0.9" stroke="none" stroke-width="0" fill="#9ec89a" />
<circle cx="678.19" cy="196.39" r="0.9" stroke="none" stroke-width="0" fill="#9ec89a" />
<circle cx="688.92" cy="199.27" r="0.9" stroke="none" stroke-width="0" fill="#9ec89a" />
<polygon points="454.5,267.7 526.2,267.7 526.2,277.1 521.3,277.5 465.7,336.3 454.5,336.3" fill="#0a0a0a" />
<g transform="translate(496.8,309) rotate(-45)"><rect x="-43" y="-2.8" width="86" height="5.6" fill="#fff" stroke="#666" stroke-width="0.8"/></g>
<rect x="526.2" y="267.7" width="18.9" height="9.4" fill="#fff" />
<line x1="526.2" y1="268.3" x2="545.1" y2="268.3" stroke="#9a9cc8" stroke-width="1.1" />
<line x1="526.2" y1="276.5" x2="545.1" y2="276.5" stroke="#9a9cc8" stroke-width="1.1" />
<line x1="526.2" y1="272.4" x2="545.1" y2="272.4" stroke="#a6a6b4" stroke-width="1.3" />
<rect x="545.1" y="267.7" width="8" height="9.4" fill="#0a0a0a" />
<rect x="624.6" y="267.7" width="7.9" height="9.4" fill="#0a0a0a" />
<rect x="632.5" y="267.7" width="55.8" height="9.4" fill="#fff" />
<line x1="632.5" y1="268.3" x2="688.3" y2="268.3" stroke="#9a9cc8" stroke-width="1.1" />
<line x1="632.5" y1="276.5" x2="688.3" y2="276.5" stroke="#9a9cc8" stroke-width="1.1" />
<line x1="632.5" y1="272.4" x2="688.3" y2="272.4" stroke="#a6a6b4" stroke-width="1.3" />
<rect x="688.3" y="267.7" width="35.7" height="9.4" fill="#0a0a0a" />
<line x1="553.1" y1="232.3" x2="553.1" y2="267.7" stroke="#86d086" stroke-width="1.6" />
<path d="M553.1,232.1 A35.6,35.6 0 0 1 588.7,267.7" stroke="#86d086" stroke-width="1" fill="none" />
<line x1="624.6" y1="232.3" x2="624.6" y2="267.7" stroke="#86d086" stroke-width="1.6" />
<path d="M589.1,267.7 A35.5,35.5 0 0 1 624.6,232.2" stroke="#86d086" stroke-width="1" fill="none" />
<rect x="454.5" y="267.7" width="11.2" height="455.7" fill="#0a0a0a" />
<rect x="714.2" y="267.7" width="9.8" height="60.7" fill="#0a0a0a" />
<rect x="714.2" y="319.2" width="22" height="9.2" fill="#0a0a0a" />
<rect x="736.2" y="319.2" width="84.2" height="9.2" fill="#fff" />
<line x1="736.2" y1="319.8" x2="820.4" y2="319.8" stroke="#9a9cc8" stroke-width="1.1" />
<line x1="736.2" y1="327.8" x2="820.4" y2="327.8" stroke="#9a9cc8" stroke-width="1.1" />
<line x1="736.2" y1="323.8" x2="820.4" y2="323.8" stroke="#a6a6b4" stroke-width="1.3" />
<rect x="820.4" y="319.2" width="33.6" height="9.2" fill="#0a0a0a" />
<rect x="848.3" y="319.2" width="5.7" height="445.8" fill="#0a0a0a" />
<rect x="545.4" y="458.5" width="147.1" height="5.7" fill="#0a0a0a" />
<rect x="545.4" y="458.5" width="5.6" height="37.9" fill="#0a0a0a" />
<rect x="608.3" y="458.5" width="5.7" height="40.3" fill="#0a0a0a" />
<rect x="608.3" y="533" width="5.7" height="8.5" fill="#0a0a0a" />
<rect x="608.3" y="534.2" width="83.5" height="7.3" fill="#0a0a0a" />
<rect x="686.4" y="458.5" width="5.4" height="83" fill="#0a0a0a" />
<rect x="691.8" y="474.4" width="4.9" height="6.8" fill="#0a0a0a" />
<rect x="681" y="497.6" width="5.4" height="37.8" fill="#888" />
<rect x="667.4" y="464.2" width="19" height="32.7" fill="#fff" stroke="#666" stroke-width="0.8"/>
<text x="681.6" y="481.1" font-family="Liberation Sans" font-size="11" font-weight="bold" text-anchor="middle" fill="#151515" textLength="23.2" lengthAdjust="spacingAndGlyphs" transform="rotate(-90 681.6 481.1)" >Cab.</text>
<rect x="621.8" y="464.2" width="21.9" height="7.3" fill="#fff" stroke="#666" stroke-width="0.8"/>
<ellipse cx="632.3" cy="481.2" rx="8.5" ry="9.5" stroke="#666" stroke-width="0.8" fill="#fff" />
<ellipse cx="632.3" cy="482" rx="5.8" ry="6.5" stroke="#888" stroke-width="0.6" fill="none" />
<circle cx="671.3" cy="515.4" r="8.8" stroke="#666" stroke-width="0.8" fill="#fff" />
<circle cx="672" cy="516" r="5.5" stroke="#888" stroke-width="0.5" fill="none" />
<path d="M553.4,497.6 L561.9,508.6 L570.4,497.6" stroke="#86d086" stroke-width="1.6" fill="none" />
<path d="M591.3,497.6 L599.8,508.6 L608.3,497.6" stroke="#86d086" stroke-width="1.6" fill="none" />
<line x1="613.2" y1="533" x2="647.4" y2="533" stroke="#86d086" stroke-width="1.6" />
<path d="M613.2,498.8 A34.2,34.2 0 0 1 647.4,533" stroke="#86d086" stroke-width="1" fill="none" />
<rect x="735.3" y="474.4" width="118.7" height="7.3" fill="#0a0a0a" />
<polygon points="836.2,481.7 849,481.7 849,496" fill="#0a0a0a" />
<line x1="696.2" y1="481.2" x2="696.2" y2="520.8" stroke="#86d086" stroke-width="1.6" />
<path d="M735.7,481.2 A39.5,39.5 0 0 1 696.2,520.7" stroke="#86d086" stroke-width="1" fill="none" />
<rect x="739" y="481.7" width="33.4" height="31.3" fill="#fff" stroke="#777" stroke-width="0.8"/>
<path d="M772.4,510.4 H820.3 V645.2 H849" stroke="#777" stroke-width="0.8" fill="none" />
<line x1="828.1" y1="645.2" x2="828.1" y2="755.4" stroke="#888" stroke-width="0.7" />
<rect x="819.4" y="561.2" width="28.4" height="33.3" fill="#fff" stroke="#888" stroke-width="0.8"/>
<circle cx="828" cy="569.6" r="4.3" stroke="#999" stroke-width="0.5" fill="#bdbdbd" />
<circle cx="839" cy="569.6" r="3.3" stroke="#999" stroke-width="0.5" fill="#bdbdbd" />
<circle cx="828" cy="586.7" r="3.3" stroke="#999" stroke-width="0.5" fill="#bdbdbd" />
<circle cx="839" cy="586.7" r="4.3" stroke="#999" stroke-width="0.5" fill="#bdbdbd" />
<path d="M771,562.6 H728.4 Q711,605 728.4,647.5 H771 Z" stroke="#777" stroke-width="0.8" fill="#fff" />
<rect x="742.9" y="568.4" width="27.2" height="27.6" fill="#fff" stroke="#777" stroke-width="0.8"/>
<line x1="742.9" y1="568.4" x2="770.1" y2="596" stroke="#777" stroke-width="0.6" />
<line x1="770.1" y1="568.4" x2="742.9" y2="596" stroke="#777" stroke-width="0.6" />
<rect x="744.9" y="600.3" width="24.1" height="28.1" fill="#fff" stroke="#777" stroke-width="0.8"/>
<rect x="747" y="603" width="18.5" height="21" fill="#fff" stroke="#999" stroke-width="0.6"/>
<circle cx="757" cy="613.5" r="1.3" stroke="#777" stroke-width="0.5" fill="none" />
<line x1="747" y1="613" x2="752" y2="606" stroke="#777" stroke-width="1.2" />
<rect x="466.2" y="565.7" width="3.8" height="148.2" fill="#888" />
<rect x="512.3" y="556.2" width="6.1" height="83.6" fill="#0a0a0a" />
<rect x="559.3" y="560.5" width="6.6" height="162.9" fill="#0a0a0a" />
<line x1="470" y1="565.7" x2="512.3" y2="565.7" stroke="#777" stroke-width="0.8" />
<line x1="470" y1="579" x2="512.3" y2="579" stroke="#777" stroke-width="0.8" />
<line x1="470" y1="592.3" x2="512.3" y2="592.3" stroke="#777" stroke-width="0.8" />
<line x1="470" y1="608.8" x2="512.3" y2="608.8" stroke="#777" stroke-width="0.8" />
<line x1="470" y1="625.5" x2="512.3" y2="625.5" stroke="#777" stroke-width="0.8" />
<line x1="470" y1="639.8" x2="512.3" y2="639.8" stroke="#777" stroke-width="0.8" />
<line x1="518.4" y1="574.8" x2="559.3" y2="574.8" stroke="#777" stroke-width="0.8" />
<line x1="518.4" y1="590.9" x2="559.3" y2="590.9" stroke="#777" stroke-width="0.8" />
<line x1="518.4" y1="617" x2="559.3" y2="617" stroke="#777" stroke-width="0.8" />
<line x1="518.4" y1="623.6" x2="559.3" y2="623.6" stroke="#777" stroke-width="0.8" />
<line x1="518.4" y1="639.8" x2="559.3" y2="639.8" stroke="#777" stroke-width="0.8" />
<path d="M518.4,602 C528,601 534,598 536,601 S538,609 541,603 S550,600 559.3,598" stroke="#888" stroke-width="0.7" fill="none" />
<path d="M518.4,610 C528,609 534,606 536,609 S538,617 541,611 S550,608 559.3,606" stroke="#888" stroke-width="0.7" fill="none" />
<line x1="491.4" y1="563.8" x2="491.4" y2="591.3" stroke="#333" stroke-width="0.8" />
<path d="M484.5,587.5 L491.4,591.3 L498.3,587.5" stroke="#333" stroke-width="0.9" fill="none" />
<line x1="539.3" y1="573.3" x2="539.3" y2="590.4" stroke="#333" stroke-width="0.8" />
<path d="M532.4,586.6 L539.3,590.4 L546.2,586.6" stroke="#333" stroke-width="0.9" fill="none" />
<line x1="539.3" y1="623.6" x2="539.3" y2="639.8" stroke="#333" stroke-width="0.8" />
<path d="M532.4,627.4 L539.3,623.6 L546.2,627.4" stroke="#333" stroke-width="0.9" fill="none" />
<text x="490.3" y="557.5" font-family="Liberation Sans" font-size="11" font-weight="normal" text-anchor="middle" fill="#222" textLength="33" lengthAdjust="spacingAndGlyphs" >Down</text>
<text x="539.3" y="564.7" font-family="Liberation Sans" font-size="11" font-weight="normal" text-anchor="middle" fill="#222" textLength="15" lengthAdjust="spacingAndGlyphs" >Up</text>
<text x="537.8" y="652.5" font-family="Liberation Sans" font-size="11" font-weight="normal" text-anchor="middle" fill="#222" textLength="33" lengthAdjust="spacingAndGlyphs" >Down</text>
<rect x="454.8" y="713.9" width="20.9" height="9.5" fill="#0a0a0a" />
<rect x="475.7" y="713.9" width="8.9" height="9.5" fill="#fff" />
<line x1="475.7" y1="714.5" x2="484.6" y2="714.5" stroke="#9a9cc8" stroke-width="1.1" />
<line x1="475.7" y1="722.8" x2="484.6" y2="722.8" stroke="#9a9cc8" stroke-width="1.1" />
<line x1="475.7" y1="718.65" x2="484.6" y2="718.65" stroke="#a6a6b4" stroke-width="1.3" />
<rect x="484.6" y="713.9" width="5.3" height="9.5" fill="#0a0a0a" />
<rect x="533.6" y="713.9" width="5.3" height="9.5" fill="#0a0a0a" />
<rect x="538.9" y="713.9" width="9" height="9.5" fill="#fff" />
<line x1="538.9" y1="714.5" x2="547.9" y2="714.5" stroke="#9a9cc8" stroke-width="1.1" />
<line x1="538.9" y1="722.8" x2="547.9" y2="722.8" stroke="#9a9cc8" stroke-width="1.1" />
<line x1="538.9" y1="718.65" x2="547.9" y2="718.65" stroke="#a6a6b4" stroke-width="1.3" />
<rect x="547.9" y="713.9" width="18" height="9.5" fill="#0a0a0a" />
<line x1="533" y1="670.7" x2="533" y2="713.9" stroke="#86d086" stroke-width="1.6" />
<path d="M489.9,713.9 A43.1,43.1 0 0 1 533,670.8" stroke="#86d086" stroke-width="1" fill="none" />
<rect x="565.7" y="700.9" width="12.5" height="9.4" fill="#0a0a0a" />
<rect x="578.2" y="700.9" width="18.8" height="9.4" fill="#fff" />
<line x1="578.2" y1="701.5" x2="597" y2="701.5" stroke="#9a9cc8" stroke-width="1.1" />
<line x1="578.2" y1="709.7" x2="597" y2="709.7" stroke="#9a9cc8" stroke-width="1.1" />
<line x1="578.2" y1="705.6" x2="597" y2="705.6" stroke="#a6a6b4" stroke-width="1.3" />
<rect x="597" y="700.9" width="8.7" height="9.4" fill="#0a0a0a" />
<line x1="605.7" y1="705" x2="640" y2="705.3" stroke="#86d086" stroke-width="1.8" />
<line x1="640" y1="706" x2="675.8" y2="706" stroke="#86d086" stroke-width="1.8" />
<rect x="675.8" y="700.9" width="8.1" height="9.4" fill="#0a0a0a" />
<rect x="683.9" y="700.9" width="18.8" height="9.4" fill="#fff" />
<line x1="683.9" y1="701.5" x2="702.7" y2="701.5" stroke="#9a9cc8" stroke-width="1.1" />
<line x1="683.9" y1="709.7" x2="702.7" y2="709.7" stroke="#9a9cc8" stroke-width="1.1" />
<line x1="683.9" y1="705.6" x2="702.7" y2="705.6" stroke="#a6a6b4" stroke-width="1.3" />
<rect x="702.7" y="700.9" width="18.7" height="9.4" fill="#0a0a0a" />
<rect x="712.7" y="700.9" width="8.7" height="40.7" fill="#0a0a0a" />
<polygon points="712.7,741.6 721.4,741.6 744,758 744,765 735,765" fill="#0a0a0a" />
<g transform="translate(726.5,751) rotate(45)"><rect x="-9" y="-4.5" width="18" height="9" fill="#fff"/><line x1="-9" y1="-4" x2="9" y2="-4" stroke="#9a9cc8" stroke-width="1"/><line x1="-9" y1="4" x2="9" y2="4" stroke="#9a9cc8" stroke-width="1"/><line x1="-9" y1="0" x2="9" y2="0" stroke="#a6a6b4" stroke-width="1.2"/></g>
<rect x="744" y="755.5" width="85" height="9.5" fill="#fff" />
<line x1="744" y1="756.1" x2="829" y2="756.1" stroke="#9a9cc8" stroke-width="1.1" />
<line x1="744" y1="764.4" x2="829" y2="764.4" stroke="#9a9cc8" stroke-width="1.1" />
<line x1="744" y1="760.25" x2="829" y2="760.25" stroke="#a6a6b4" stroke-width="1.3" />
<rect x="829" y="755.5" width="25" height="9.5" fill="#0a0a0a" />
<path d="M557.3,710 V818.8 H853.4 V765" stroke="#888" stroke-width="0.8" fill="none" />
<path d="M560,710.3 V816.3 H851" stroke="#aaa" stroke-width="0.6" fill="none" />
<rect x="455.5" y="723.4" width="5" height="96.4" fill="#8a8a8a" />
<path d="M460.5,819.8 H554.1 V723.4" stroke="#888" stroke-width="0.8" fill="none" />
<line x1="460.5" y1="779.1" x2="554.1" y2="779.1" stroke="#777" stroke-width="0.8" />
<line x1="460.5" y1="797.9" x2="554.1" y2="797.9" stroke="#777" stroke-width="0.8" />
<path d="M460.5,814 L490,808 C494,807 497,812 500,810 S503,803 507,806 L554,800" stroke="#888" stroke-width="0.7" fill="none" />
<line x1="509.4" y1="776" x2="509.4" y2="797.9" stroke="#333" stroke-width="0.8" />
<path d="M502.5,794 L509.4,797.9 L516.3,794" stroke="#333" stroke-width="0.9" fill="none" />
<text x="510" y="772.9" font-family="Liberation Sans" font-size="11" font-weight="normal" text-anchor="middle" fill="#222" textLength="33" lengthAdjust="spacingAndGlyphs" >Down</text>
<ellipse cx="578.7" cy="361.9" rx="34.7" ry="18.6" stroke="#555" stroke-width="0.8" fill="#fff" />
<rect x="555.2" y="403.4" width="31.1" height="37.6" fill="#fff" stroke="#5a5a5a" stroke-width="0.9" rx="3"/>
<rect x="555.2" y="432.4" width="31.1" height="8.6" fill="#fff" stroke="#5a5a5a" stroke-width="0.9" rx="4"/>
<rect x="586.3" y="403.4" width="30.9" height="37.6" fill="#fff" stroke="#5a5a5a" stroke-width="0.9" rx="3"/>
<rect x="586.3" y="432.4" width="30.9" height="8.6" fill="#fff" stroke="#5a5a5a" stroke-width="0.9" rx="4"/>
<polygon points="617.2,403.4 629.2,402 645,429.2 620,440.5 617.2,441" fill="#fff" stroke="#5a5a5a" stroke-width="0.9"/>
<polygon points="617.2,432.4 644,426 646,433 620,440.8" fill="#fff" stroke="#5a5a5a" stroke-width="0.9"/>
<polygon points="630,395 638,389 669,406.5 645,430" fill="#fff" stroke="#5a5a5a" stroke-width="0.9"/>
<polygon points="645,430 663,408 667.5,412 652,433" fill="#fff" stroke="#5a5a5a" stroke-width="0.9"/>
<polygon points="638,389 639.3,381.1 676.5,381.1 670,408" fill="#fff" stroke="#5a5a5a" stroke-width="0.9"/>
<polygon points="668,381.1 676.5,381.1 673,408 666,405" fill="#fff" stroke="#5a5a5a" stroke-width="0.9"/>
<rect x="639.3" y="350" width="37.6" height="31.1" fill="#fff" stroke="#5a5a5a" stroke-width="0.9" rx="3"/>
<rect x="668.3" y="350" width="8.6" height="31.1" fill="#fff" stroke="#5a5a5a" stroke-width="0.9" rx="4"/>
<g transform="translate(516.1,408.2) rotate(25)"><rect x="-17" y="-15" width="34" height="30" rx="3" fill="#fff" stroke="#666" stroke-width="0.8"/><rect x="-13" y="-15" width="26" height="22" fill="#fff" stroke="#666" stroke-width="0.7"/><rect x="-17" y="7" width="34" height="8" rx="3" fill="#fff" stroke="#666" stroke-width="0.7"/></g>
<rect x="752.6" y="361.5" width="69.2" height="48.1" fill="#fff" stroke="#5a5a5a" stroke-width="0.9"/>
<rect x="759.7" y="347.9" width="24.7" height="13.6" fill="#fff" stroke="#5a5a5a" stroke-width="0.9" rx="2"/>
<rect x="759.7" y="409.6" width="24.7" height="13.9" fill="#fff" stroke="#5a5a5a" stroke-width="0.9" rx="2"/>
<line x1="760.7" y1="351" x2="783.4" y2="351" stroke="#777" stroke-width="0.6" />
<line x1="760.7" y1="420.5" x2="783.4" y2="420.5" stroke="#777" stroke-width="0.6" />
<rect x="790.3" y="347.9" width="24.7" height="13.6" fill="#fff" stroke="#5a5a5a" stroke-width="0.9" rx="2"/>
<rect x="790.3" y="409.6" width="24.7" height="13.9" fill="#fff" stroke="#5a5a5a" stroke-width="0.9" rx="2"/>
<line x1="791.3" y1="351" x2="814" y2="351" stroke="#777" stroke-width="0.6" />
<line x1="791.3" y1="420.5" x2="814" y2="420.5" stroke="#777" stroke-width="0.6" />
<rect x="739.3" y="373.4" width="13.3" height="24.6" fill="#fff" stroke="#5a5a5a" stroke-width="0.9" rx="2"/>
<rect x="821.8" y="373.4" width="14.1" height="24.6" fill="#fff" stroke="#5a5a5a" stroke-width="0.9" rx="2"/>
<line x1="742.5" y1="374.5" x2="742.5" y2="397" stroke="#777" stroke-width="0.6" />
<line x1="832.5" y1="374.5" x2="832.5" y2="397" stroke="#777" stroke-width="0.6" />
<rect x="576.5" y="579.2" width="36" height="92.1" fill="#fff" stroke="#5a5a5a" stroke-width="0.9"/>
<rect x="580.5" y="582.2" width="30.8" height="29.3" fill="#fff" stroke="#5a5a5a" stroke-width="0.9"/>
<rect x="580.5" y="611.5" width="30.8" height="27.9" fill="#fff" stroke="#5a5a5a" stroke-width="0.9"/>
<rect x="580.5" y="639.4" width="30.8" height="28.9" fill="#fff" stroke="#5a5a5a" stroke-width="0.9"/>
<circle cx="590.8" cy="589.5" r="1.05" stroke="none" stroke-width="0" fill="#222" />
<circle cx="598" cy="589.5" r="1.05" stroke="none" stroke-width="0" fill="#222" />
<circle cx="605.2" cy="589.5" r="1.05" stroke="none" stroke-width="0" fill="#222" />
<circle cx="590.8" cy="596.6" r="1.05" stroke="none" stroke-width="0" fill="#222" />
<circle cx="598" cy="596.6" r="1.05" stroke="none" stroke-width="0" fill="#222" />
<circle cx="605.2" cy="596.6" r="1.05" stroke="none" stroke-width="0" fill="#222" />
<circle cx="590.8" cy="603.7" r="1.05" stroke="none" stroke-width="0" fill="#222" />
<circle cx="598" cy="603.7" r="1.05" stroke="none" stroke-width="0" fill="#222" />
<circle cx="605.2" cy="603.7" r="1.05" stroke="none" stroke-width="0" fill="#222" />
<circle cx="590.8" cy="618.5" r="1.05" stroke="none" stroke-width="0" fill="#222" />
<circle cx="598" cy="618.5" r="1.05" stroke="none" stroke-width="0" fill="#222" />
<circle cx="605.2" cy="618.5" r="1.05" stroke="none" stroke-width="0" fill="#222" />
<circle cx="590.8" cy="625.6" r="1.05" stroke="none" stroke-width="0" fill="#222" />
<circle cx="598" cy="625.6" r="1.05" stroke="none" stroke-width="0" fill="#222" />
<circle cx="605.2" cy="625.6" r="1.05" stroke="none" stroke-width="0" fill="#222" />
<circle cx="590.8" cy="632.7" r="1.05" stroke="none" stroke-width="0" fill="#222" />
<circle cx="598" cy="632.7" r="1.05" stroke="none" stroke-width="0" fill="#222" />
<circle cx="605.2" cy="632.7" r="1.05" stroke="none" stroke-width="0" fill="#222" />
<circle cx="590.8" cy="646.9" r="1.05" stroke="none" stroke-width="0" fill="#222" />
<circle cx="598" cy="646.9" r="1.05" stroke="none" stroke-width="0" fill="#222" />
<circle cx="605.2" cy="646.9" r="1.05" stroke="none" stroke-width="0" fill="#222" />
<circle cx="590.8" cy="654" r="1.05" stroke="none" stroke-width="0" fill="#222" />
<circle cx="598" cy="654" r="1.05" stroke="none" stroke-width="0" fill="#222" />
<circle cx="605.2" cy="654" r="1.05" stroke="none" stroke-width="0" fill="#222" />
<circle cx="590.8" cy="661.1" r="1.05" stroke="none" stroke-width="0" fill="#222" />
<circle cx="598" cy="661.1" r="1.05" stroke="none" stroke-width="0" fill="#222" />
<circle cx="605.2" cy="661.1" r="1.05" stroke="none" stroke-width="0" fill="#222" />
<rect x="636.3" y="596.3" width="26.3" height="54" fill="#fff" stroke="#5a5a5a" stroke-width="0.9"/>
<g transform="translate(690.7 670.3) rotate(-35)"><rect x="-11.0" y="-11.0" width="22" height="22" rx="2" fill="#fff" stroke="#666" stroke-width="0.8"/><rect x="-7.5" y="-7.5" width="15" height="18.5" fill="#fff" stroke="#666" stroke-width="0.7"/></g>
<circle cx="685.1" cy="668.7" r="0.6" stroke="none" stroke-width="0" fill="#444" />
<circle cx="687.1" cy="672.3" r="0.6" stroke="none" stroke-width="0" fill="#444" />
<circle cx="689.1" cy="675.9" r="0.6" stroke="none" stroke-width="0" fill="#444" />
<circle cx="688.7" cy="666.7" r="0.6" stroke="none" stroke-width="0" fill="#444" />
<circle cx="690.7" cy="670.3" r="0.6" stroke="none" stroke-width="0" fill="#444" />
<circle cx="692.7" cy="673.9" r="0.6" stroke="none" stroke-width="0" fill="#444" />
<circle cx="692.3" cy="664.7" r="0.6" stroke="none" stroke-width="0" fill="#444" />
<circle cx="694.3" cy="668.3" r="0.6" stroke="none" stroke-width="0" fill="#444" />
<circle cx="696.3" cy="671.9" r="0.6" stroke="none" stroke-width="0" fill="#444" />
<g transform="translate(758 696) rotate(-45)"><rect x="-10" y="-6" width="20" height="12" rx="2" fill="#fff" stroke="#666" stroke-width="0.8"/><line x1="-9" y1="-3" x2="9" y2="-3" stroke="#777" stroke-width="0.6"/></g>
<g transform="translate(797.1 696) rotate(45)"><rect x="-10" y="-6" width="20" height="12" rx="2" fill="#fff" stroke="#666" stroke-width="0.8"/><line x1="-9" y1="-3" x2="9" y2="-3" stroke="#777" stroke-width="0.6"/></g>
<g transform="translate(758 736.2) rotate(-135)"><rect x="-10" y="-6" width="20" height="12" rx="2" fill="#fff" stroke="#666" stroke-width="0.8"/><line x1="-9" y1="-3" x2="9" y2="-3" stroke="#777" stroke-width="0.6"/></g>
<g transform="translate(797.1 736.2) rotate(135)"><rect x="-10" y="-6" width="20" height="12" rx="2" fill="#fff" stroke="#666" stroke-width="0.8"/><line x1="-9" y1="-3" x2="9" y2="-3" stroke="#777" stroke-width="0.6"/></g>
<polygon points="777.7,685.8 809.6,716.2 777.7,746.1 747.8,716.2" fill="#fff" stroke="#5a5a5a" stroke-width="0.9"/>
<rect x="601.7" y="766.6" width="23.4" height="29.7" fill="#fff" stroke="#5a5a5a" stroke-width="0.9"/>
<line x1="604.7" y1="771" x2="622.1" y2="771" stroke="#888" stroke-width="0.6" />
<line x1="604.7" y1="776" x2="622.1" y2="776" stroke="#888" stroke-width="0.6" />
<line x1="604.7" y1="781" x2="622.1" y2="781" stroke="#888" stroke-width="0.6" />
<line x1="604.7" y1="786" x2="622.1" y2="786" stroke="#888" stroke-width="0.6" />
<line x1="604.7" y1="791" x2="622.1" y2="791" stroke="#888" stroke-width="0.6" />
<line x1="604.7" y1="769" x2="604.7" y2="794" stroke="#888" stroke-width="0.6" />
<rect x="658" y="766.6" width="23.4" height="29.7" fill="#fff" stroke="#5a5a5a" stroke-width="0.9"/>
<line x1="661" y1="771" x2="678.4" y2="771" stroke="#888" stroke-width="0.6" />
<line x1="661" y1="776" x2="678.4" y2="776" stroke="#888" stroke-width="0.6" />
<line x1="661" y1="781" x2="678.4" y2="781" stroke="#888" stroke-width="0.6" />
<line x1="661" y1="786" x2="678.4" y2="786" stroke="#888" stroke-width="0.6" />
<line x1="661" y1="791" x2="678.4" y2="791" stroke="#888" stroke-width="0.6" />
<line x1="661" y1="769" x2="661" y2="794" stroke="#888" stroke-width="0.6" />
<rect x="632" y="771.9" width="19.7" height="18.8" fill="#fff" stroke="#5a5a5a" stroke-width="0.9"/>
<circle cx="641.8" cy="781.3" r="6" stroke="none" stroke-width="0" fill="#222" />
<circle cx="641.8" cy="781.3" r="3" stroke="none" stroke-width="0" fill="#555" />
<circle cx="834.6" cy="799.4" r="10" stroke="none" stroke-width="0" fill="#1f5f22" />
<ellipse cx="839.03" cy="800.18" rx="4.2" ry="2.4" fill="#5fb446" transform="rotate(10 839.03 800.18)"/>
<ellipse cx="835.38" cy="803.83" rx="4.2" ry="2.4" fill="#86c95a" transform="rotate(80 835.38 803.83)"/>
<ellipse cx="830.7" cy="801.65" rx="4.2" ry="2.4" fill="#4fa83c" transform="rotate(150 830.7 801.65)"/>
<ellipse cx="830.91" cy="796.82" rx="4.2" ry="2.4" fill="#7cc255" transform="rotate(215 830.91 796.82)"/>
<ellipse cx="836.14" cy="795.17" rx="4.2" ry="2.4" fill="#5cb043" transform="rotate(290 836.14 795.17)"/>
<circle cx="834.6" cy="799.4" r="1.8" stroke="none" stroke-width="0" fill="#2d7a2d" />
<circle cx="843.43" cy="804.5" r="0.9" stroke="none" stroke-width="0" fill="#9ec89a" />
<circle cx="832.83" cy="809.45" r="0.9" stroke="none" stroke-width="0" fill="#9ec89a" />
<circle cx="824.55" cy="801.17" r="0.9" stroke="none" stroke-width="0" fill="#9ec89a" />
<circle cx="831.11" cy="789.82" r="0.9" stroke="none" stroke-width="0" fill="#9ec89a" />
<circle cx="842.41" cy="792.84" r="0.9" stroke="none" stroke-width="0" fill="#9ec89a" />
<text x="587.6" y="204.4" font-family="Liberation Sans" font-size="11" font-weight="bold" text-anchor="middle" fill="#151515" textLength="30" lengthAdjust="spacingAndGlyphs" >Deck</text>
<line x1="572.6" y1="206.2" x2="602.6" y2="206.2" stroke="#aaa" stroke-width="0.8" />
<text x="587.6" y="218.5" font-family="Liberation Sans" font-size="11" font-weight="normal" text-anchor="middle" fill="#151515" textLength="65" lengthAdjust="spacingAndGlyphs" >14’9” x 5’7”</text>
<text x="657.3" y="303.8" font-family="Liberation Sans" font-size="11" font-weight="bold" text-anchor="middle" fill="#151515" textLength="69.2" lengthAdjust="spacingAndGlyphs" >Living Room</text>
<line x1="622.7" y1="305.6" x2="691.9" y2="305.6" stroke="#aaa" stroke-width="0.8" />
<text x="657.3" y="318.2" font-family="Liberation Sans" font-size="11" font-weight="normal" text-anchor="middle" fill="#151515" textLength="66" lengthAdjust="spacingAndGlyphs" >17’3” x 12’6”</text>
<text x="508.3" y="321.8" font-family="Liberation Sans" font-size="11" font-weight="bold" text-anchor="middle" fill="#151515" textLength="52" lengthAdjust="spacingAndGlyphs" transform="rotate(-45 508.3 321.8)" >Fireplace</text>
<text x="790.3" y="449" font-family="Liberation Sans" font-size="11" font-weight="bold" text-anchor="middle" fill="#151515" textLength="71.4" lengthAdjust="spacingAndGlyphs" >Dining Room</text>
<line x1="754.6" y1="450.8" x2="826" y2="450.8" stroke="#aaa" stroke-width="0.8" />
<text x="790.3" y="462.6" font-family="Liberation Sans" font-size="11" font-weight="normal" text-anchor="middle" fill="#151515" textLength="64.3" lengthAdjust="spacingAndGlyphs" >10’1” x 9’4”</text>
<text x="580" y="478.1" font-family="Liberation Sans" font-size="11" font-weight="bold" text-anchor="middle" fill="#151515" textLength="36.1" lengthAdjust="spacingAndGlyphs" >Closet</text>
<line x1="561.95" y1="479.9" x2="598.05" y2="479.9" stroke="#aaa" stroke-width="0.8" />
<text x="580" y="492.7" font-family="Liberation Sans" font-size="11" font-weight="normal" text-anchor="middle" fill="#151515" textLength="52.5" lengthAdjust="spacingAndGlyphs" >4’ x 1’10”</text>
<text x="638.9" y="502.5" font-family="Liberation Sans" font-size="11" font-weight="bold" text-anchor="middle" fill="#151515" textLength="42.5" lengthAdjust="spacingAndGlyphs" >Powder</text>
<line x1="617.65" y1="504.3" x2="660.15" y2="504.3" stroke="#aaa" stroke-width="0.8" />
<text x="639.1" y="517.1" font-family="Liberation Sans" font-size="11" font-weight="bold" text-anchor="middle" fill="#151515" textLength="32.2" lengthAdjust="spacingAndGlyphs" >Room</text>
<line x1="623" y1="518.9" x2="655.2" y2="518.9" stroke="#aaa" stroke-width="0.8" />
<text x="639.1" y="531" font-family="Liberation Sans" font-size="11" font-weight="normal" text-anchor="middle" fill="#151515" textLength="32.9" lengthAdjust="spacingAndGlyphs" >5’ x 5’</text>
<text x="772.9" y="535.4" font-family="Liberation Sans" font-size="11" font-weight="bold" text-anchor="middle" fill="#151515" textLength="41.9" lengthAdjust="spacingAndGlyphs" >Kitchen</text>
<line x1="751.95" y1="537.2" x2="793.85" y2="537.2" stroke="#aaa" stroke-width="0.8" />
<text x="772.9" y="548.9" font-family="Liberation Sans" font-size="11" font-weight="normal" text-anchor="middle" fill="#151515" textLength="77" lengthAdjust="spacingAndGlyphs" >11’5” x 10’11”</text>
<text x="650.3" y="560.3" font-family="Liberation Sans" font-size="11" font-weight="bold" text-anchor="middle" fill="#151515" textLength="73.3" lengthAdjust="spacingAndGlyphs" >Family Room</text>
<line x1="613.65" y1="562.1" x2="686.95" y2="562.1" stroke="#aaa" stroke-width="0.8" />
<text x="650.3" y="573.3" font-family="Liberation Sans" font-size="11" font-weight="normal" text-anchor="middle" fill="#151515" textLength="51.3" lengthAdjust="spacingAndGlyphs" >11’ x 8’9”</text>
<text x="509.3" y="673" font-family="Liberation Sans" font-size="11" font-weight="bold" text-anchor="middle" fill="#151515" textLength="30.8" lengthAdjust="spacingAndGlyphs" >Foyer</text>
<line x1="493.9" y1="674.8" x2="524.7" y2="674.8" stroke="#aaa" stroke-width="0.8" />
<text x="509.3" y="687.3" font-family="Liberation Sans" font-size="11" font-weight="normal" text-anchor="middle" fill="#151515" textLength="58.3" lengthAdjust="spacingAndGlyphs" >6’3” x 5’2”</text>
<text x="780.5" y="664.6" font-family="Liberation Sans" font-size="11" font-weight="bold" text-anchor="middle" fill="#151515" textLength="67.2" lengthAdjust="spacingAndGlyphs" >Eating Area</text>
<line x1="746.9" y1="666.4" x2="814.1" y2="666.4" stroke="#aaa" stroke-width="0.8" />
<text x="780.5" y="677.9" font-family="Liberation Sans" font-size="11" font-weight="normal" text-anchor="middle" fill="#151515" textLength="62" lengthAdjust="spacingAndGlyphs" >8’10” x 7’6”</text>
<text x="512.5" y="736.9" font-family="Liberation Sans" font-size="11" font-weight="bold" text-anchor="middle" fill="#151515" textLength="33" lengthAdjust="spacingAndGlyphs" >Porch</text>
<line x1="496" y1="738.7" x2="529" y2="738.7" stroke="#aaa" stroke-width="0.8" />
<text x="512.5" y="750" font-family="Liberation Sans" font-size="11" font-weight="normal" text-anchor="middle" fill="#151515" textLength="64" lengthAdjust="spacingAndGlyphs" >6’2” x 3’10”</text>
<text x="640.7" y="733.8" font-family="Liberation Sans" font-size="11" font-weight="bold" text-anchor="middle" fill="#151515" textLength="30" lengthAdjust="spacingAndGlyphs" >Deck</text>
<line x1="625.7" y1="735.6" x2="655.7" y2="735.6" stroke="#aaa" stroke-width="0.8" />
<text x="640.7" y="749.4" font-family="Liberation Sans" font-size="11" font-weight="normal" text-anchor="middle" fill="#151515" textLength="65" lengthAdjust="spacingAndGlyphs" >20’2” x 7’5”</text>
<text x="456.7" y="846.2" font-family="Liberation Sans" font-size="14" font-weight="bold" text-anchor="start" fill="#111" textLength="84" lengthAdjust="spacingAndGlyphs" >MAIN LEVEL</text>
<text x="456.7" y="861.8" font-family="Liberation Sans" font-size="14" font-weight="normal" text-anchor="start" fill="#111" textLength="155" lengthAdjust="spacingAndGlyphs" >Floor Area: 857 Sq. Ft.</text>
<text x="456.7" y="877.9" font-family="Liberation Sans" font-size="14" font-weight="normal" text-anchor="start" fill="#111" textLength="123.4" lengthAdjust="spacingAndGlyphs" >Ceiling Height: 8’</text>
<path d="M951.6,348.4 V265 H1082.5 V348.4" stroke="#777" stroke-width="0.9" fill="none" />
<path d="M954.4,348.4 V267.2 H1079.7 V348.4" stroke="#999" stroke-width="0.7" fill="none" />
<circle cx="965.9" cy="278.8" r="8" stroke="none" stroke-width="0" fill="#1f5f22" />
<ellipse cx="969.45" cy="279.43" rx="3.36" ry="1.92" fill="#5fb446" transform="rotate(10 969.45 279.43)"/>
<ellipse cx="966.53" cy="282.35" rx="3.36" ry="1.92" fill="#86c95a" transform="rotate(80 966.53 282.35)"/>
<ellipse cx="962.78" cy="280.6" rx="3.36" ry="1.92" fill="#4fa83c" transform="rotate(150 962.78 280.6)"/>
<ellipse cx="962.95" cy="276.74" rx="3.36" ry="1.92" fill="#7cc255" transform="rotate(215 962.95 276.74)"/>
<ellipse cx="967.13" cy="275.42" rx="3.36" ry="1.92" fill="#5cb043" transform="rotate(290 967.13 275.42)"/>
<circle cx="965.9" cy="278.8" r="1.44" stroke="none" stroke-width="0" fill="#2d7a2d" />
<circle cx="972.97" cy="282.88" r="0.9" stroke="none" stroke-width="0" fill="#9ec89a" />
<circle cx="964.48" cy="286.84" r="0.9" stroke="none" stroke-width="0" fill="#9ec89a" />
<circle cx="957.86" cy="280.22" r="0.9" stroke="none" stroke-width="0" fill="#9ec89a" />
<circle cx="963.11" cy="271.13" r="0.9" stroke="none" stroke-width="0" fill="#9ec89a" />
<circle cx="972.15" cy="273.55" r="0.9" stroke="none" stroke-width="0" fill="#9ec89a" />
<circle cx="1068.8" cy="279.4" r="8" stroke="none" stroke-width="0" fill="#1f5f22" />
<ellipse cx="1072.35" cy="280.03" rx="3.36" ry="1.92" fill="#5fb446" transform="rotate(10 1072.35 280.03)"/>
<ellipse cx="1069.43" cy="282.95" rx="3.36" ry="1.92" fill="#86c95a" transform="rotate(80 1069.43 282.95)"/>
<ellipse cx="1065.68" cy="281.2" rx="3.36" ry="1.92" fill="#4fa83c" transform="rotate(150 1065.68 281.2)"/>
<ellipse cx="1065.85" cy="277.34" rx="3.36" ry="1.92" fill="#7cc255" transform="rotate(215 1065.85 277.34)"/>
<ellipse cx="1070.03" cy="276.02" rx="3.36" ry="1.92" fill="#5cb043" transform="rotate(290 1070.03 276.02)"/>
<circle cx="1068.8" cy="279.4" r="1.44" stroke="none" stroke-width="0" fill="#2d7a2d" />
<circle cx="1075.87" cy="283.48" r="0.9" stroke="none" stroke-width="0" fill="#9ec89a" />
<circle cx="1067.38" cy="287.44" r="0.9" stroke="none" stroke-width="0" fill="#9ec89a" />
<circle cx="1060.76" cy="280.82" r="0.9" stroke="none" stroke-width="0" fill="#9ec89a" />
<circle cx="1066.01" cy="271.73" r="0.9" stroke="none" stroke-width="0" fill="#9ec89a" />
<circle cx="1075.05" cy="274.15" r="0.9" stroke="none" stroke-width="0" fill="#9ec89a" />
<rect x="992.5" y="310.2" width="12.2" height="18.3" fill="#fff" stroke="#5a5a5a" stroke-width="0.9" rx="1.5"/>
<rect x="1034.6" y="310.2" width="11.8" height="18.3" fill="#fff" stroke="#5a5a5a" stroke-width="0.9" rx="1.5"/>
<line x1="996" y1="311" x2="996" y2="327.5" stroke="#777" stroke-width="0.6" />
<line x1="1043" y1="311" x2="1043" y2="327.5" stroke="#777" stroke-width="0.6" />
<circle cx="1019.6" cy="319.4" r="16.5" stroke="#666" stroke-width="0.8" fill="#fff" />
<path d="M1013,324 L1019,321 L1026,324 L1020,323 Z M1018,314 L1019,322 L1022,316" stroke="#333" stroke-width="1" fill="#333" />
<text x="1019.6" y="282.5" font-family="Liberation Sans" font-size="11" font-weight="bold" text-anchor="middle" fill="#151515" textLength="29.9" lengthAdjust="spacingAndGlyphs" >Deck</text>
<line x1="1004.65" y1="284.3" x2="1034.55" y2="284.3" stroke="#aaa" stroke-width="0.8" />
<text x="1019.6" y="296.2" font-family="Liberation Sans" font-size="11" font-weight="normal" text-anchor="middle" fill="#151515" textLength="57.7" lengthAdjust="spacingAndGlyphs" >8’8” x 5’7”</text>
<rect x="884.8" y="348.4" width="70.1" height="9.6" fill="#0a0a0a" />
<rect x="954.9" y="348.4" width="19" height="9.6" fill="#fff" />
<line x1="954.9" y1="349" x2="973.9" y2="349" stroke="#9a9cc8" stroke-width="1.1" />
<line x1="954.9" y1="357.4" x2="973.9" y2="357.4" stroke="#9a9cc8" stroke-width="1.1" />
<line x1="954.9" y1="353.2" x2="973.9" y2="353.2" stroke="#a6a6b4" stroke-width="1.3" />
<rect x="973.9" y="348.4" width="7.8" height="9.6" fill="#0a0a0a" />
<line x1="981.7" y1="353.5" x2="1017" y2="353.5" stroke="#86d086" stroke-width="1.8" />
<line x1="1017" y1="352.5" x2="1052.3" y2="352.5" stroke="#86d086" stroke-width="1.8" />
<rect x="1052.3" y="348.4" width="7.9" height="9.6" fill="#0a0a0a" />
<rect x="1060.2" y="348.4" width="19.2" height="9.6" fill="#fff" />
<line x1="1060.2" y1="349" x2="1079.4" y2="349" stroke="#9a9cc8" stroke-width="1.1" />
<line x1="1060.2" y1="357.4" x2="1079.4" y2="357.4" stroke="#9a9cc8" stroke-width="1.1" />
<line x1="1060.2" y1="353.2" x2="1079.4" y2="353.2" stroke="#a6a6b4" stroke-width="1.3" />
<rect x="1079.4" y="348.4" width="74.5" height="9.6" fill="#0a0a0a" />
<rect x="884.8" y="348.4" width="28.2" height="28.6" fill="#0a0a0a" />
<rect x="884.8" y="348.4" width="9.7" height="420" fill="#0a0a0a" />
<rect x="1144.5" y="348.4" width="9.4" height="51.8" fill="#0a0a0a" />
<rect x="1144.5" y="400.2" width="5.6" height="65.5" fill="#0a0a0a" />
<rect x="1144.5" y="503" width="5.6" height="38" fill="#0a0a0a" />
<rect x="1144.5" y="400.2" width="22.1" height="9.4" fill="#0a0a0a" />
<rect x="1166.6" y="400.2" width="53.5" height="9.4" fill="#fff" />
<line x1="1166.6" y1="400.8" x2="1220.1" y2="400.8" stroke="#9a9cc8" stroke-width="1.1" />
<line x1="1166.6" y1="409" x2="1220.1" y2="409" stroke="#9a9cc8" stroke-width="1.1" />
<line x1="1166.6" y1="404.9" x2="1220.1" y2="404.9" stroke="#a6a6b4" stroke-width="1.3" />
<rect x="1220.1" y="400.2" width="64.6" height="9.4" fill="#0a0a0a" />
<rect x="1279.3" y="400.2" width="5.4" height="423" fill="#0a0a0a" />
<line x1="1150" y1="466.5" x2="1186" y2="466.5" stroke="#86d086" stroke-width="1.6" />
<path d="M1186,466.5 A36,36 0 0 1 1150,502.5" stroke="#86d086" stroke-width="1" fill="none" />
<rect x="1150.7" y="413" width="66" height="28.9" fill="#fff" stroke="#5a5a5a" stroke-width="0.9" rx="2"/>
<path d="M1164,413 H1213 Q1216.7,413 1216.7,417 V438 Q1216.7,441.9 1213,441.9 H1164 Q1151,441.9 1151,427.5 Q1151,413 1164,413 Z" stroke="#777" stroke-width="0.7" fill="#fff" />
<line x1="1150.1" y1="444.4" x2="1219.3" y2="444.4" stroke="#999" stroke-width="0.6" />
<circle cx="1206" cy="423.5" r="1.6" stroke="#777" stroke-width="0.5" fill="none" />
<rect x="1219.3" y="409.6" width="7.3" height="51.5" fill="#7a7a7a" />
<rect x="1226.6" y="409.6" width="52.2" height="50.1" fill="#fff" stroke="#777" stroke-width="0.7"/>
<rect x="1229" y="412" width="47.5" height="45.5" fill="none" stroke="#999" stroke-width="0.5"/>
<line x1="1229" y1="412" x2="1276.5" y2="457.5" stroke="#888" stroke-width="0.6" />
<line x1="1276.5" y1="412" x2="1229" y2="457.5" stroke="#888" stroke-width="0.6" />
<circle cx="1252.4" cy="434.5" r="2.2" stroke="#888" stroke-width="0.6" fill="#fff" />
<rect x="1150.1" y="508.2" width="90.4" height="27.2" fill="#fff" stroke="#777" stroke-width="0.7"/>
<rect x="1208.5" y="510.7" width="23.5" height="21.8" fill="#fff" stroke="#777" stroke-width="0.8"/>
<rect x="1211" y="513" width="18.5" height="17" fill="none" stroke="#999" stroke-width="0.5"/>
<circle cx="1220" cy="519" r="1.3" stroke="#777" stroke-width="0.5" fill="none" />
<ellipse cx="1261.8" cy="514.1" rx="9.5" ry="11" stroke="#666" stroke-width="0.8" fill="#fff" />
<ellipse cx="1261.8" cy="513.5" rx="6.5" ry="8" stroke="#888" stroke-width="0.6" fill="none" />
<rect x="1249.9" y="525.2" width="23.8" height="10.2" fill="#fff" stroke="#666" stroke-width="0.8"/>
<text x="1221.3" y="476.7" font-family="Liberation Sans" font-size="11" font-weight="bold" text-anchor="middle" fill="#151515" textLength="39.1" lengthAdjust="spacingAndGlyphs" >Ensuite</text>
<line x1="1201.75" y1="478.5" x2="1240.85" y2="478.5" stroke="#aaa" stroke-width="0.8" />
<text x="1221.3" y="491.2" font-family="Liberation Sans" font-size="11" font-weight="normal" text-anchor="middle" fill="#151515" textLength="44.5" lengthAdjust="spacingAndGlyphs" >9’ x 8’8”</text>
<rect x="893.6" y="382.9" width="5.1" height="87.3" fill="#7d6a5f" />
<rect x="898.7" y="383.5" width="31.9" height="86.1" fill="#e6e6e6" />
<polygon points="904,381.5 921.5,385.5 916,410 901,407.5" fill="#7b7172" stroke="#fafafa" stroke-width="1.2"/>
<polygon points="900.5,413.5 918,412.5 918.5,440 900.5,440.5" fill="#7b7172" stroke="#fafafa" stroke-width="1.2"/>
<polygon points="901,446 916.5,444 921.5,470 905,472.5" fill="#7b7172" stroke="#fafafa" stroke-width="1.2"/>
<rect x="930.6" y="382.9" width="11" height="87.3" fill="#7a6f71" stroke="#4a4244" stroke-width="0.6"/>
<rect x="941.6" y="382.9" width="45.5" height="87.3" fill="#7c7274" rx="3" stroke="#4a4244" stroke-width="0.6"/>
<rect x="895" y="478.6" width="16.9" height="27.4" fill="#fff" stroke="#777" stroke-width="0.7"/>
<circle cx="900.5" cy="499.5" r="3.5" stroke="#333" stroke-width="0.8" fill="none" />
<circle cx="900.5" cy="499.5" r="1.2" stroke="none" stroke-width="0" fill="#222" />
<line x1="901.5" y1="497" x2="908" y2="484" stroke="#333" stroke-width="1.1" />
<line x1="906" y1="482.5" x2="910" y2="485" stroke="#333" stroke-width="0.8" />
<g transform="translate(1122 381.8) rotate(-15)"><rect x="-10.5" y="-10.5" width="21" height="21" rx="2" fill="#fff" stroke="#666" stroke-width="0.8"/><rect x="-7.0" y="-7.0" width="14" height="17.5" fill="#fff" stroke="#666" stroke-width="0.7"/></g>
<g transform="translate(1122 433.5) rotate(-15)"><rect x="-10.5" y="-10.5" width="21" height="21" rx="2" fill="#fff" stroke="#666" stroke-width="0.8"/><rect x="-7.0" y="-7.0" width="14" height="17.5" fill="#fff" stroke="#666" stroke-width="0.7"/></g>
<circle cx="1124.2" cy="408.2" r="10" stroke="#777" stroke-width="0.8" fill="#fff" />
<text x="1046" y="441.6" font-family="Liberation Sans" font-size="11" font-weight="bold" text-anchor="middle" fill="#151515" textLength="98.1" lengthAdjust="spacingAndGlyphs" >Primary Bedroom</text>
<line x1="996.95" y1="443.4" x2="1095.05" y2="443.4" stroke="#aaa" stroke-width="0.8" />
<text x="1046" y="455.9" font-family="Liberation Sans" font-size="11" font-weight="normal" text-anchor="middle" fill="#151515" textLength="70.4" lengthAdjust="spacingAndGlyphs" >16’5” x 12’3”</text>
<rect x="894.3" y="536" width="3.3" height="4.3" fill="#0a0a0a" />
<rect x="985.1" y="536" width="9.2" height="4.3" fill="#0a0a0a" />
<rect x="990" y="536" width="4.3" height="37.8" fill="#0a0a0a" />
<rect x="994.3" y="552" width="4.2" height="4.7" fill="#0a0a0a" />
<rect x="894.3" y="568.7" width="100" height="5.1" fill="#0a0a0a" />
<rect x="1039.8" y="536" width="7.9" height="4.3" fill="#0a0a0a" />
<rect x="1039.8" y="536" width="5.1" height="37.8" fill="#0a0a0a" />
<rect x="1035.5" y="552" width="4.3" height="4.7" fill="#0a0a0a" />
<rect x="1039.8" y="568.7" width="109.3" height="5.1" fill="#0a0a0a" />
<rect x="1144.8" y="535.4" width="4.3" height="38.4" fill="#0a0a0a" />
<rect x="1135.2" y="535.4" width="9.6" height="5.5" fill="#0a0a0a" />
<path d="M897.6,535.8 L909.7,516 L922.9,535.8" stroke="#86d086" stroke-width="1.5" fill="none" />
<path d="M900.8000000000001,535.8 L911.3000000000001,518.5 L912.3000000000001,516.5 L924.4,535.8" stroke="#86d086" stroke-width="1" fill="none" />
<path d="M959.2,535.8 L971.3,516 L983.4,535.8" stroke="#86d086" stroke-width="1.5" fill="none" />
<path d="M962.4000000000001,535.8 L972.9,518.5 L973.9,516.5 L984.9,535.8" stroke="#86d086" stroke-width="1" fill="none" />
<path d="M1048.3,535.8 L1059.3,516 L1072.5,535.8" stroke="#86d086" stroke-width="1.5" fill="none" />
<path d="M1051.5,535.8 L1060.8999999999999,518.5 L1061.8999999999999,516.5 L1074.0,535.8" stroke="#86d086" stroke-width="1" fill="none" />
<path d="M1109.9,535.8 L1120.9,516 L1133,535.8" stroke="#86d086" stroke-width="1.5" fill="none" />
<path d="M1113.1000000000001,535.8 L1122.5,518.5 L1123.5,516.5 L1134.5,535.8" stroke="#86d086" stroke-width="1" fill="none" />
<line x1="1036.2" y1="514.9" x2="1036.2" y2="553.4" stroke="#86d086" stroke-width="1.6" />
<path d="M997.7,553.4 A38.5,38.5 0 0 1 1036.2,514.9" stroke="#86d086" stroke-width="1" fill="none" />
<text x="936.4" y="546.7" font-family="Liberation Sans" font-size="11" font-weight="bold" text-anchor="middle" fill="#151515" textLength="35.9" lengthAdjust="spacingAndGlyphs" >Closet</text>
<line x1="918.45" y1="548.5" x2="954.35" y2="548.5" stroke="#aaa" stroke-width="0.8" />
<text x="936.4" y="560.6" font-family="Liberation Sans" font-size="11" font-weight="normal" text-anchor="middle" fill="#151515" textLength="64.5" lengthAdjust="spacingAndGlyphs" >6’7” x 1’11”</text>
<text x="1097.6" y="546.7" font-family="Liberation Sans" font-size="11" font-weight="bold" text-anchor="middle" fill="#151515" textLength="35.7" lengthAdjust="spacingAndGlyphs" >Closet</text>
<line x1="1079.75" y1="548.5" x2="1115.45" y2="548.5" stroke="#aaa" stroke-width="0.8" />
<text x="1097.6" y="560.6" font-family="Liberation Sans" font-size="11" font-weight="normal" text-anchor="middle" fill="#151515" textLength="71.6" lengthAdjust="spacingAndGlyphs" >6’11” x 1’11”</text>
<rect x="1134.9" y="535.4" width="149.6" height="5.7" fill="#0a0a0a" />
<rect x="1145.1" y="535.4" width="5.1" height="38" fill="#0a0a0a" />
<rect x="1138.8" y="573.4" width="5.8" height="8.5" fill="#0a0a0a" />
<rect x="1201.7" y="541.1" width="6.3" height="45" fill="#0a0a0a" />
<rect x="1261.2" y="541.1" width="18.2" height="34.8" fill="#0a0a0a" />
<rect x="1201.7" y="623.2" width="6.3" height="48.8" fill="#0a0a0a" />
<rect x="1198.3" y="632" width="3.4" height="6" fill="#0a0a0a" />
<rect x="1201.7" y="666" width="82.8" height="6" fill="#0a0a0a" />
<rect x="1160.4" y="545" width="31.4" height="31.3" fill="#fff" stroke="#666" stroke-width="0.8"/>
<line x1="1161" y1="548" x2="1191" y2="548" stroke="#888" stroke-width="1.2" />
<text x="1176" y="568" font-family="Liberation Sans" font-size="8" font-weight="bold" text-anchor="middle" fill="#222" >W/D</text>
<rect x="1219.4" y="545" width="24.3" height="22.8" fill="#fff" stroke="#777" stroke-width="0.8"/>
<rect x="1222" y="548" width="19" height="17" fill="none" stroke="#999" stroke-width="0.5"/>
<circle cx="1231.5" cy="556" r="1.3" stroke="#777" stroke-width="0.5" fill="none" />
<line x1="1208" y1="571.7" x2="1261.2" y2="571.7" stroke="#999" stroke-width="0.6" />
<line x1="1261.2" y1="575.9" x2="1261.2" y2="571.7" stroke="#999" stroke-width="0.6" />
<rect x="1269.7" y="593.3" width="9.2" height="24.3" fill="#fff" stroke="#666" stroke-width="0.8"/>
<ellipse cx="1258.2" cy="605.7" rx="10.5" ry="9.5" stroke="#666" stroke-width="0.8" fill="#fff" />
<ellipse cx="1257.5" cy="605.7" rx="7.5" ry="6.5" stroke="#888" stroke-width="0.6" fill="none" />
<rect x="1210.5" y="629.5" width="66.4" height="35.7" fill="#fff" stroke="#777" stroke-width="0.7"/>
<line x1="1212.5" y1="631.5" x2="1243.7" y2="647" stroke="#888" stroke-width="0.6" />
<line x1="1243.7" y1="647" x2="1275" y2="631.5" stroke="#888" stroke-width="0.6" />
<line x1="1212.5" y1="663" x2="1243.7" y2="647" stroke="#888" stroke-width="0.6" />
<line x1="1243.7" y1="647" x2="1275" y2="663" stroke="#888" stroke-width="0.6" />
<rect x="1240.5" y="645.2" width="6.5" height="3.6" fill="#fff" stroke="#888" stroke-width="0.5"/>
<line x1="1208" y1="623.2" x2="1244.6" y2="623.2" stroke="#86d086" stroke-width="1.6" />
<path d="M1208,586.7 A36.5,36.5 0 0 1 1244.5,623.2" stroke="#86d086" stroke-width="1" fill="none" />
<path d="M1144.6,581 L1151.9,594.6 L1157,586.1" stroke="#86d086" stroke-width="1.6" fill="none" />
<path d="M1188.4,586 L1194.4,590.4 L1200.3,586" stroke="#86d086" stroke-width="1.6" fill="none" />
<text x="1176.6" y="587.8" font-family="Liberation Sans" font-size="11" font-weight="bold" text-anchor="middle" fill="#151515" textLength="44.9" lengthAdjust="spacingAndGlyphs" >Laundry</text>
<line x1="1154.15" y1="589.6" x2="1199.05" y2="589.6" stroke="#aaa" stroke-width="0.8" />
<text x="1176.6" y="601.4" font-family="Liberation Sans" font-size="11" font-weight="normal" text-anchor="middle" fill="#151515" textLength="44.7" lengthAdjust="spacingAndGlyphs" >4’ x 2’6”</text>
<text x="1224.1" y="600.6" font-family="Liberation Sans" font-size="11" font-weight="bold" text-anchor="middle" fill="#151515" textLength="54.4" lengthAdjust="spacingAndGlyphs" transform="rotate(-90 1224.1 600.6)" >Bathroom</text>
<text x="1238.6" y="602.3" font-family="Liberation Sans" font-size="11" font-weight="normal" text-anchor="middle" fill="#151515" textLength="42.5" lengthAdjust="spacingAndGlyphs" transform="rotate(-90 1238.6 602.3)" >8’8” x 5’</text>
<rect x="1116.2" y="632" width="10.7" height="6" fill="#0a0a0a" />
<rect x="1149.3" y="632" width="12.3" height="6" fill="#0a0a0a" />
<rect x="1120.4" y="632" width="4.8" height="33.2" fill="#0a0a0a" />
<rect x="1153.6" y="632" width="4.6" height="103.5" fill="#0a0a0a" />
<rect x="1120" y="659" width="37.4" height="6.3" fill="#0a0a0a" />
<rect x="1120" y="731" width="37.8" height="4.5" fill="#0a0a0a" />
<rect x="1120" y="723.8" width="5.9" height="11.7" fill="#0a0a0a" />
<rect x="1120" y="735.5" width="4.6" height="63.9" fill="#0a0a0a" />
<rect x="1152.4" y="794" width="5.4" height="5.4" fill="#0a0a0a" />
<text x="1136.6" y="629.5" font-family="Liberation Sans" font-size="11" font-weight="bold" text-anchor="middle" fill="#151515" textLength="32.3" lengthAdjust="spacingAndGlyphs" transform="rotate(-90 1136.6 629.5)" >Closet</text>
<text x="1149.3" y="629.9" font-family="Liberation Sans" font-size="11" font-weight="normal" text-anchor="middle" fill="#151515" textLength="57" lengthAdjust="spacingAndGlyphs" transform="rotate(-90 1149.3 629.9)" >1’11” x 1’6”</text>
<text x="1133.1" y="698.2" font-family="Liberation Sans" font-size="11" font-weight="bold" text-anchor="middle" fill="#151515" textLength="33.3" lengthAdjust="spacingAndGlyphs" transform="rotate(-90 1133.1 698.2)" >Closet</text>
<text x="1145.7" y="698.6" font-family="Liberation Sans" font-size="11" font-weight="normal" text-anchor="middle" fill="#151515" textLength="61.2" lengthAdjust="spacingAndGlyphs" transform="rotate(-90 1145.7 698.6)" >4’7” x 1’11”</text>
<text x="1138.5" y="767" font-family="Liberation Sans" font-size="11" font-weight="bold" text-anchor="middle" fill="#151515" textLength="34.2" lengthAdjust="spacingAndGlyphs" transform="rotate(-90 1138.5 767)" >Closet</text>
<text x="1151.1" y="767.9" font-family="Liberation Sans" font-size="11" font-weight="normal" text-anchor="middle" fill="#151515" textLength="59.4" lengthAdjust="spacingAndGlyphs" transform="rotate(-90 1151.1 767.9)" >4’5” x 1’11”</text>
<path d="M1120.5,674.5 L1107.9,680.5 L1120.5,686.5" stroke="#86d086" stroke-width="1.6" fill="none" />
<path d="M1120.5,711 L1107.9,717 L1120.5,723" stroke="#86d086" stroke-width="1.6" fill="none" />
<path d="M1157.4,740 L1170.9,747 L1157.4,754" stroke="#86d086" stroke-width="1.6" fill="none" />
<path d="M1157.4,778 L1170.9,785 L1157.4,792" stroke="#86d086" stroke-width="1.6" fill="none" />
<line x1="1117" y1="638.8" x2="1117" y2="676.8" stroke="#86d086" stroke-width="1.6" />
<path d="M1117,676.8 A38,38 0 0 1 1079,638.8" stroke="#86d086" stroke-width="1" fill="none" />
<line x1="1162.9" y1="638.8" x2="1162.9" y2="674.5" stroke="#86d086" stroke-width="1.6" />
<path d="M1198.6,638.8 A35.7,35.7 0 0 1 1162.9,674.5" stroke="#86d086" stroke-width="1" fill="none" />
<rect x="988.3" y="632.2" width="91.2" height="5.7" fill="#0a0a0a" />
<rect x="988.3" y="632.2" width="6.1" height="177.5" fill="#0a0a0a" />
<rect x="988.3" y="799.4" width="39.9" height="10.3" fill="#0a0a0a" />
<rect x="1028.2" y="799.4" width="64.2" height="10.3" fill="#fff" />
<line x1="1028.2" y1="800" x2="1092.4" y2="800" stroke="#9a9cc8" stroke-width="1.1" />
<line x1="1028.2" y1="809.1" x2="1092.4" y2="809.1" stroke="#9a9cc8" stroke-width="1.1" />
<line x1="1028.2" y1="804.55" x2="1092.4" y2="804.55" stroke="#a6a6b4" stroke-width="1.3" />
<rect x="1092.4" y="799.4" width="81.2" height="10.3" fill="#0a0a0a" />
<rect x="1164.2" y="799.4" width="9.4" height="23.8" fill="#0a0a0a" />
<rect x="1164.2" y="813.8" width="23.8" height="9.4" fill="#0a0a0a" />
<rect x="1188" y="813.8" width="69.3" height="9.4" fill="#fff" />
<line x1="1188" y1="814.4" x2="1257.3" y2="814.4" stroke="#9a9cc8" stroke-width="1.1" />
<line x1="1188" y1="822.6" x2="1257.3" y2="822.6" stroke="#9a9cc8" stroke-width="1.1" />
<line x1="1188" y1="818.5" x2="1257.3" y2="818.5" stroke="#a6a6b4" stroke-width="1.3" />
<rect x="1257.3" y="813.8" width="27" height="9.4" fill="#0a0a0a" />
<rect x="884.7" y="758.9" width="29.5" height="9.5" fill="#0a0a0a" />
<rect x="914.2" y="758.9" width="54.7" height="9.5" fill="#fff" />
<line x1="914.2" y1="759.5" x2="968.9" y2="759.5" stroke="#9a9cc8" stroke-width="1.1" />
<line x1="914.2" y1="767.8" x2="968.9" y2="767.8" stroke="#9a9cc8" stroke-width="1.1" />
<line x1="914.2" y1="763.65" x2="968.9" y2="763.65" stroke="#a6a6b4" stroke-width="1.3" />
<rect x="968.9" y="758.9" width="20.3" height="9.5" fill="#0a0a0a" />
<line x1="894.8" y1="640.6" x2="988.3" y2="640.6" stroke="#888" stroke-width="0.8" />
<line x1="894.8" y1="655.4" x2="940.4" y2="655.4" stroke="#777" stroke-width="0.8" />
<line x1="894.8" y1="672.1" x2="940.4" y2="672.1" stroke="#777" stroke-width="0.8" />
<line x1="894.8" y1="688.6" x2="940.4" y2="688.6" stroke="#777" stroke-width="0.8" />
<line x1="894.8" y1="704.4" x2="940.4" y2="704.4" stroke="#777" stroke-width="0.8" />
<line x1="894.8" y1="721" x2="940.4" y2="721" stroke="#777" stroke-width="0.8" />
<line x1="945.5" y1="672.1" x2="988.3" y2="672.1" stroke="#777" stroke-width="0.8" />
<line x1="945.5" y1="688.6" x2="988.3" y2="688.6" stroke="#777" stroke-width="0.8" />
<line x1="945.5" y1="704.4" x2="988.3" y2="704.4" stroke="#777" stroke-width="0.8" />
<line x1="945.5" y1="721" x2="988.3" y2="721" stroke="#777" stroke-width="0.8" />
<path d="M945.5,646.3 H988.3" stroke="#888" stroke-width="0.6" fill="none" />
<line x1="940.4" y1="640.6" x2="940.4" y2="721" stroke="#888" stroke-width="0.7" />
<line x1="945.5" y1="646.3" x2="945.5" y2="721" stroke="#888" stroke-width="0.7" />
<path d="M946,660 L960,656 C962,654 963,662 965,660 S967,650 970,654 L988,651" stroke="#777" stroke-width="0.7" fill="none" />
<line x1="917.6" y1="689.6" x2="917.6" y2="721" stroke="#333" stroke-width="0.8" />
<path d="M910.5,693.5 L917.6,689.6 L924.7,693.5" stroke="#333" stroke-width="0.9" fill="none" />
<line x1="967.4" y1="689.6" x2="967.4" y2="721" stroke="#333" stroke-width="0.8" />
<path d="M960.3,693.5 L967.4,689.6 L974.5,693.5" stroke="#333" stroke-width="0.9" fill="none" />
<text x="915.7" y="734.8" font-family="Liberation Sans" font-size="11" font-weight="normal" text-anchor="middle" fill="#222" textLength="15" lengthAdjust="spacingAndGlyphs" >Up</text>
<text x="965.9" y="734.8" font-family="Liberation Sans" font-size="11" font-weight="normal" text-anchor="middle" fill="#222" textLength="33" lengthAdjust="spacingAndGlyphs" >Down</text>
<rect x="994.9" y="686.7" width="3.8" height="64.1" fill="#7d6a5f" />
<rect x="998.7" y="687.3" width="29.5" height="62.9" fill="#e6e6e6" />
<polygon points="1000,692 1018,687.5 1027,712 1005,719" fill="#7b7172" stroke="#fafafa" stroke-width="1.2"/>
<polygon points="999.7,721 1017,718 1023,745 1004,749.5" fill="#7b7172" stroke="#fafafa" stroke-width="1.2"/>
<rect x="1028.2" y="686.7" width="14.2" height="64.1" fill="#7a6f71" stroke="#4a4244" stroke-width="0.6"/>
<rect x="1042.4" y="686.7" width="38" height="64.1" fill="#7c7274" rx="3" stroke="#4a4244" stroke-width="0.6"/>
<rect x="994.9" y="657.7" width="25.7" height="25.8" fill="#fff" stroke="#777" stroke-width="0.7"/>
<circle cx="1007.7" cy="670.2" r="8.5" stroke="#555" stroke-width="0.7" fill="#e9e6bb" />
<circle cx="1007.7" cy="670.2" r="3.6" stroke="#555" stroke-width="0.6" fill="#bdb88e" />
<circle cx="1007.7" cy="670.2" r="1.6" stroke="none" stroke-width="0" fill="#222" />
<rect x="994.9" y="754.6" width="25.7" height="25.8" fill="#fff" stroke="#777" stroke-width="0.7"/>
<circle cx="1007.7" cy="767.1" r="8.5" stroke="#555" stroke-width="0.7" fill="#e9e6bb" />
<circle cx="1007.7" cy="767.1" r="3.6" stroke="#555" stroke-width="0.6" fill="#bdb88e" />
<circle cx="1007.7" cy="767.1" r="1.6" stroke="none" stroke-width="0" fill="#222" />
<text x="1065.2" y="771.7" font-family="Liberation Sans" font-size="11" font-weight="bold" text-anchor="middle" fill="#151515" textLength="51.3" lengthAdjust="spacingAndGlyphs" >Bedroom</text>
<line x1="1039.55" y1="773.5" x2="1090.85" y2="773.5" stroke="#aaa" stroke-width="0.8" />
<text x="1065.2" y="785.5" font-family="Liberation Sans" font-size="11" font-weight="normal" text-anchor="middle" fill="#151515" textLength="64" lengthAdjust="spacingAndGlyphs" >11’2” x 8’9”</text>
<rect x="1274.4" y="707.6" width="3.6" height="63.9" fill="#7d6a5f" />
<rect x="1244.2" y="708.2" width="30.2" height="62.7" fill="#e6e6e6" />
<polygon points="1250,712 1268,708 1273,735 1254,740" fill="#7b7172" stroke="#fafafa" stroke-width="1.2"/>
<polygon points="1247,742 1266,738 1272,765 1252,769.5" fill="#7b7172" stroke="#fafafa" stroke-width="1.2"/>
<rect x="1230.3" y="707.6" width="13.9" height="63.9" fill="#7a6f71" stroke="#4a4244" stroke-width="0.6"/>
<rect x="1192" y="707.6" width="38.3" height="63.9" fill="#7c7274" rx="3" stroke="#4a4244" stroke-width="0.6"/>
<rect x="1252.5" y="678.4" width="25.5" height="26" fill="#fff" stroke="#777" stroke-width="0.7"/>
<circle cx="1265.4" cy="691" r="8.5" stroke="#555" stroke-width="0.7" fill="#e9e6bb" />
<circle cx="1265.4" cy="691" r="3.6" stroke="#555" stroke-width="0.6" fill="#bdb88e" />
<circle cx="1265.4" cy="691" r="1.6" stroke="none" stroke-width="0" fill="#222" />
<rect x="1252.5" y="775.1" width="25.5" height="25.2" fill="#fff" stroke="#777" stroke-width="0.7"/>
<circle cx="1265.4" cy="788" r="8.5" stroke="#555" stroke-width="0.7" fill="#e9e6bb" />
<circle cx="1265.4" cy="788" r="3.6" stroke="#555" stroke-width="0.6" fill="#bdb88e" />
<circle cx="1265.4" cy="788" r="1.6" stroke="none" stroke-width="0" fill="#222" />
<text x="1216.4" y="789" font-family="Liberation Sans" font-size="11" font-weight="bold" text-anchor="middle" fill="#151515" textLength="51.3" lengthAdjust="spacingAndGlyphs" >Bedroom</text>
<line x1="1190.75" y1="790.8" x2="1242.05" y2="790.8" stroke="#aaa" stroke-width="0.8" />
<text x="1216.4" y="803.4" font-family="Liberation Sans" font-size="11" font-weight="normal" text-anchor="middle" fill="#151515" textLength="63.9" lengthAdjust="spacingAndGlyphs" >12’2” x 8’4”</text>
<text x="984.5" y="836.9" font-family="Liberation Sans" font-size="14" font-weight="bold" text-anchor="start" fill="#111" textLength="91" lengthAdjust="spacingAndGlyphs" >UPPER LEVEL</text>
<text x="984.5" y="853.1" font-family="Liberation Sans" font-size="14" font-weight="normal" text-anchor="start" fill="#111" textLength="155" lengthAdjust="spacingAndGlyphs" >Floor Area: 837 Sq. Ft.</text>
<text x="984.5" y="871.1" font-family="Liberation Sans" font-size="14" font-weight="normal" text-anchor="start" fill="#111" textLength="123.4" lengthAdjust="spacingAndGlyphs" >Ceiling Height: 8’</text>
<circle cx="1288.3" cy="890.5" r="20.4" stroke="#888" stroke-width="0.9" fill="#fff" />
<path d="M1269.8,898.1 L1279.2,873.1 L1305.4,880.2" stroke="#111" stroke-width="1.9" fill="none" stroke-linejoin="miter"/>
<line x1="1279.2" y1="873.1" x2="1297.6" y2="908.5" stroke="#555" stroke-width="0.7" />
<text x="1274.2" y="867.5" font-family="Liberation Sans" font-size="13" font-weight="bold" text-anchor="middle" fill="#111" transform="rotate(-22 1274.2 867.5)" >N</text>
<rect x="1154.4" y="935" width="144.4" height="11.6" fill="#fff" stroke="#ccc" stroke-width="0.6"/>
<rect x="1154.4" y="935" width="14.5" height="6" fill="#111" />
<rect x="1168.9" y="941" width="14.5" height="5.6" fill="#111" />
<rect x="1183.4" y="935" width="14.5" height="6" fill="#111" />
<rect x="1197.9" y="941" width="28.9" height="5.6" fill="#111" />
<rect x="1226.8" y="935" width="72" height="6" fill="#111" />
<text x="1145.9" y="931.3" font-family="Liberation Sans" font-size="11" font-weight="bold" text-anchor="start" fill="#111" textLength="18" lengthAdjust="spacingAndGlyphs" >0 ft</text>
<text x="1189.3" y="931.3" font-family="Liberation Sans" font-size="11" font-weight="bold" text-anchor="start" fill="#111" textLength="18" lengthAdjust="spacingAndGlyphs" >3 ft</text>
<text x="1218.3" y="931.3" font-family="Liberation Sans" font-size="11" font-weight="bold" text-anchor="start" fill="#111" textLength="18" lengthAdjust="spacingAndGlyphs" >5 ft</text>
<text x="1285" y="931.3" font-family="Liberation Sans" font-size="11" font-weight="bold" text-anchor="start" fill="#111" textLength="25" lengthAdjust="spacingAndGlyphs" >10 ft</text>
<text x="451.5" y="966" font-family="Liberation Sans" font-size="15" font-weight="normal" text-anchor="start" fill="#999" textLength="10.5" lengthAdjust="spacingAndGlyphs" >**</text>
<text x="462" y="962.7" font-family="Liberation Sans" font-size="13" font-weight="bold" text-anchor="start" fill="#111" textLength="850.5" lengthAdjust="spacingAndGlyphs" >While all reasonable attempts have been made to ensure accuracy and the square footage and room dimensions are believed to</text>
<text x="449.4" y="979.6" font-family="Liberation Sans" font-size="13" font-weight="bold" text-anchor="start" fill="#111" textLength="862.8" lengthAdjust="spacingAndGlyphs" >be correct to ANSI Standards, due to the possibility of human error the information cannot be guaranteed. E&amp;O Insured for $1,000,000</text>
<text x="1103.5" y="998.5" font-family="Liberation Sans" font-size="15" font-weight="normal" text-anchor="start" fill="#888" textLength="11" lengthAdjust="spacingAndGlyphs" >**</text>
<text x="1312" y="995.3" font-family="Liberation Sans" font-size="13" font-weight="bold" text-anchor="end" fill="#111" textLength="191" lengthAdjust="spacingAndGlyphs" >May Include Unfinished areas</text>
<rect x="3.4" y="965.2" width="16.7" height="19.3" fill="#2f86c0" rx="1.5"/>
<rect x="6.9" y="969.6" width="9.7" height="3.3" fill="#fff" rx="1"/>
<rect x="6.9" y="976.9" width="9.7" height="3.4" fill="#fff" rx="1"/>
<rect x="18.5" y="973.8" width="1.6" height="2.2" fill="#fff" />
<rect x="21" y="965.2" width="13.8" height="19.3" fill="#2f86c0" rx="1.5"/>
<rect x="25.2" y="969.8" width="9.6" height="10.5" fill="#fff" rx="1"/>
<path d="M44,957 L62,948 L82,952 L86,980 L70,990" stroke="#e4e4e8" stroke-width="0.8" fill="none" />
<line x1="60" y1="985" x2="100" y2="981" stroke="#dcdce0" stroke-width="0.8" />
<line x1="79" y1="975" x2="79" y2="988" stroke="#d0d0d6" stroke-width="0.8" />
<line x1="83" y1="974" x2="83" y2="986" stroke="#d6d6da" stroke-width="0.8" />
<polygon points="38.2,972.3 41,970.5 59.5,982.5 65.4,975.2 68,976.5 60,987.2 58.7,986.6" fill="#6f9cc9" />
<polygon points="38.2,972.3 41,970.5 59.5,982.5 58.7,984.5" fill="#a9c6e3" />
<polygon points="59.5,982.5 65.4,975.2 68,976.5 60.5,985" fill="#c9dcee" />
<polygon points="43.6,967.7 55.4,961 58,962.5 46,969.5" fill="#b8bcc2" />
<polygon points="46,969.5 58,962.5 58,965 47,971.5" fill="#9ea3aa" />
<polygon points="66,969 75,964 84,970 83,973.5 74,980 67,976" fill="#7d93b2" />
<polygon points="66,969 75,964 84,970 75,974" fill="#a7b6cc" />
<polygon points="56,957 64,951.5 72,954 82,955 80,962 70,966 62,964" fill="#c9cdd3" />
<polygon points="60,958 66,954 70,957 64,961" fill="#8f969e" />
<polygon points="71,956 78,955.5 78,960 72,962" fill="#eef0f3" stroke="#a0a6ae" stroke-width="0.6"/>
<text x="3.7" y="998" font-family="Liberation Serif" font-size="12.5" font-weight="bold" text-anchor="start" fill="#111" textLength="85.3" lengthAdjust="spacingAndGlyphs" >FLOOR PLANS</text></svg></body></html>
